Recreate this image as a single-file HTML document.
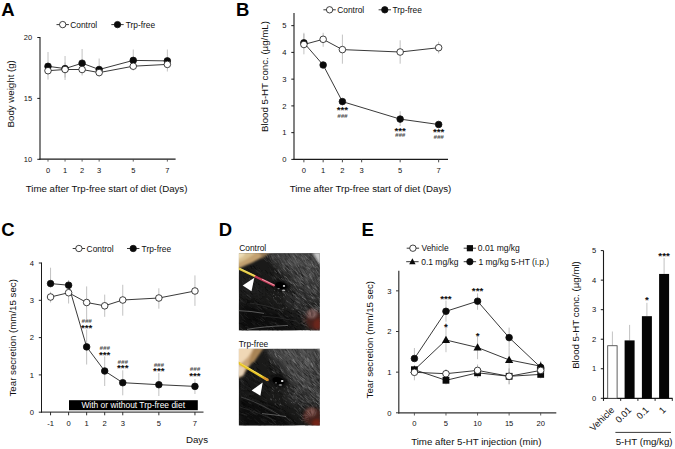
<!DOCTYPE html>
<html lang="en">
<head>
<meta charset="utf-8">
<title>Figure</title>
<style>
html,body{margin:0;padding:0;background:#fff;}
body{width:675px;height:449px;overflow:hidden;}
svg{display:block;font-family:"Liberation Sans", Arial, Helvetica, sans-serif;}
</style>
</head>
<body>
<svg width="675" height="449" viewBox="0 0 675 449">
<defs>
<filter id="blur0" x="-5%" y="-5%" width="110%" height="110%"><feGaussianBlur stdDeviation="0.45"/></filter>
<filter id="blur15" x="-30%" y="-30%" width="160%" height="160%"><feGaussianBlur stdDeviation="1.8"/></filter>
<filter id="blur1" x="-20%" y="-20%" width="140%" height="140%"><feGaussianBlur stdDeviation="1.1"/></filter>
<filter id="blur2" x="-20%" y="-20%" width="140%" height="140%"><feGaussianBlur stdDeviation="3"/></filter>
</defs>
<rect x="0" y="0" width="675" height="449" fill="#fff"/>
<g id="panelA">
<text x="1.30" y="15.60" font-size="18.5" text-anchor="start" font-weight="bold" fill="#000">A</text>
<line x1="56.50" y1="24.60" x2="68.90" y2="24.60" stroke="#222" stroke-width="0.9"/>
<circle cx="62.70" cy="24.60" r="3.2" fill="#fff" stroke="#111" stroke-width="0.8"/>
<text x="70.20" y="27.60" font-size="8.4" text-anchor="start" font-weight="normal" fill="#111">Control</text>
<line x1="111.30" y1="24.60" x2="123.70" y2="24.60" stroke="#222" stroke-width="0.9"/>
<circle cx="117.50" cy="24.60" r="3.2" fill="#0a0a0a" stroke="#111" stroke-width="0.8"/>
<text x="125.70" y="27.60" font-size="8.4" text-anchor="start" font-weight="normal" fill="#111">Trp-free</text>
<line x1="40.00" y1="37.00" x2="40.00" y2="159.65" stroke="#1a1a1a" stroke-width="1.1"/>
<line x1="39.45" y1="159.10" x2="175.60" y2="159.10" stroke="#1a1a1a" stroke-width="1.1"/>
<line x1="37.30" y1="159.30" x2="40.00" y2="159.30" stroke="#1a1a1a" stroke-width="1.0"/>
<text x="32.20" y="162.00" font-size="7.5" text-anchor="end" font-weight="normal" fill="#111">10</text>
<line x1="37.30" y1="98.40" x2="40.00" y2="98.40" stroke="#1a1a1a" stroke-width="1.0"/>
<text x="32.20" y="101.10" font-size="7.5" text-anchor="end" font-weight="normal" fill="#111">15</text>
<line x1="37.30" y1="37.50" x2="40.00" y2="37.50" stroke="#1a1a1a" stroke-width="1.0"/>
<text x="32.20" y="40.20" font-size="7.5" text-anchor="end" font-weight="normal" fill="#111">20</text>
<line x1="48.00" y1="159.10" x2="48.00" y2="161.60" stroke="#444" stroke-width="0.85"/>
<text x="48.00" y="172.60" font-size="7.5" text-anchor="middle" font-weight="normal" fill="#111">0</text>
<line x1="65.05" y1="159.10" x2="65.05" y2="161.60" stroke="#444" stroke-width="0.85"/>
<text x="65.05" y="172.60" font-size="7.5" text-anchor="middle" font-weight="normal" fill="#111">1</text>
<line x1="82.10" y1="159.10" x2="82.10" y2="161.60" stroke="#444" stroke-width="0.85"/>
<text x="82.10" y="172.60" font-size="7.5" text-anchor="middle" font-weight="normal" fill="#111">2</text>
<line x1="99.15" y1="159.10" x2="99.15" y2="161.60" stroke="#444" stroke-width="0.85"/>
<text x="99.15" y="172.60" font-size="7.5" text-anchor="middle" font-weight="normal" fill="#111">3</text>
<line x1="133.25" y1="159.10" x2="133.25" y2="161.60" stroke="#444" stroke-width="0.85"/>
<text x="133.25" y="172.60" font-size="7.5" text-anchor="middle" font-weight="normal" fill="#111">5</text>
<line x1="167.35" y1="159.10" x2="167.35" y2="161.60" stroke="#444" stroke-width="0.85"/>
<text x="167.35" y="172.60" font-size="7.5" text-anchor="middle" font-weight="normal" fill="#111">7</text>
<text x="106.60" y="191.50" font-size="9.7" text-anchor="middle" font-weight="normal" fill="#111">Time after Trp-free start of diet (Days)</text>
<text x="14.50" y="93.80" font-size="9.7" text-anchor="middle" font-weight="normal" fill="#111" transform="rotate(-90 14.50 93.80)">Body weight (g)</text>
<line x1="48.00" y1="52.00" x2="48.00" y2="70.00" stroke="#adadad" stroke-width="0.75"/>
<line x1="65.05" y1="56.00" x2="65.05" y2="80.00" stroke="#adadad" stroke-width="0.75"/>
<line x1="82.10" y1="49.00" x2="82.10" y2="70.00" stroke="#adadad" stroke-width="0.75"/>
<line x1="99.15" y1="58.50" x2="99.15" y2="75.00" stroke="#adadad" stroke-width="0.75"/>
<line x1="133.25" y1="49.50" x2="133.25" y2="66.00" stroke="#adadad" stroke-width="0.75"/>
<line x1="167.35" y1="49.50" x2="167.35" y2="66.00" stroke="#adadad" stroke-width="0.75"/>
<line x1="48.00" y1="63.50" x2="48.00" y2="79.60" stroke="#adadad" stroke-width="0.75"/>
<line x1="65.05" y1="62.50" x2="65.05" y2="77.50" stroke="#adadad" stroke-width="0.75"/>
<line x1="82.10" y1="63.00" x2="82.10" y2="75.50" stroke="#adadad" stroke-width="0.75"/>
<line x1="99.15" y1="67.50" x2="99.15" y2="76.50" stroke="#adadad" stroke-width="0.75"/>
<line x1="133.25" y1="61.00" x2="133.25" y2="70.50" stroke="#adadad" stroke-width="0.75"/>
<line x1="167.35" y1="58.50" x2="167.35" y2="71.50" stroke="#adadad" stroke-width="0.75"/>
<polyline points="48.00,66.30 65.05,68.60 82.10,63.20 99.15,69.50 133.25,60.40 167.35,60.90" fill="none" stroke="#222" stroke-width="0.9"/>
<polyline points="48.00,70.70 65.05,69.50 82.10,69.50 99.15,72.60 133.25,66.20 167.35,64.40" fill="none" stroke="#222" stroke-width="0.9"/>
<circle cx="48.00" cy="66.30" r="3.3" fill="#0a0a0a" stroke="#111" stroke-width="0.8"/>
<circle cx="65.05" cy="68.60" r="3.3" fill="#0a0a0a" stroke="#111" stroke-width="0.8"/>
<circle cx="82.10" cy="63.20" r="3.3" fill="#0a0a0a" stroke="#111" stroke-width="0.8"/>
<circle cx="99.15" cy="69.50" r="3.3" fill="#0a0a0a" stroke="#111" stroke-width="0.8"/>
<circle cx="133.25" cy="60.40" r="3.3" fill="#0a0a0a" stroke="#111" stroke-width="0.8"/>
<circle cx="167.35" cy="60.90" r="3.3" fill="#0a0a0a" stroke="#111" stroke-width="0.8"/>
<circle cx="48.00" cy="70.70" r="3.3" fill="#fff" stroke="#111" stroke-width="0.8"/>
<circle cx="65.05" cy="69.50" r="3.3" fill="#fff" stroke="#111" stroke-width="0.8"/>
<circle cx="82.10" cy="69.50" r="3.3" fill="#fff" stroke="#111" stroke-width="0.8"/>
<circle cx="99.15" cy="72.60" r="3.3" fill="#fff" stroke="#111" stroke-width="0.8"/>
<circle cx="133.25" cy="66.20" r="3.3" fill="#fff" stroke="#111" stroke-width="0.8"/>
<circle cx="167.35" cy="64.40" r="3.3" fill="#fff" stroke="#111" stroke-width="0.8"/>
</g>
<g id="panelB">
<text x="235.90" y="16.00" font-size="18.5" text-anchor="start" font-weight="bold" fill="#000">B</text>
<line x1="323.40" y1="9.80" x2="335.80" y2="9.80" stroke="#222" stroke-width="0.9"/>
<circle cx="329.60" cy="9.80" r="3.2" fill="#fff" stroke="#111" stroke-width="0.8"/>
<text x="337.20" y="12.80" font-size="8.4" text-anchor="start" font-weight="normal" fill="#111">Control</text>
<line x1="378.60" y1="9.80" x2="391.00" y2="9.80" stroke="#222" stroke-width="0.9"/>
<circle cx="384.80" cy="9.80" r="3.2" fill="#0a0a0a" stroke="#111" stroke-width="0.8"/>
<text x="392.40" y="12.80" font-size="8.4" text-anchor="start" font-weight="normal" fill="#111">Trp-free</text>
<line x1="294.00" y1="12.90" x2="294.00" y2="159.95" stroke="#1a1a1a" stroke-width="1.1"/>
<line x1="293.45" y1="159.40" x2="448.00" y2="159.40" stroke="#1a1a1a" stroke-width="1.1"/>
<line x1="291.30" y1="159.40" x2="294.00" y2="159.40" stroke="#1a1a1a" stroke-width="1.0"/>
<text x="286.60" y="162.10" font-size="7.6" text-anchor="end" font-weight="normal" fill="#111">0</text>
<line x1="291.30" y1="132.65" x2="294.00" y2="132.65" stroke="#1a1a1a" stroke-width="1.0"/>
<text x="286.60" y="135.35" font-size="7.6" text-anchor="end" font-weight="normal" fill="#111">1</text>
<line x1="291.30" y1="105.90" x2="294.00" y2="105.90" stroke="#1a1a1a" stroke-width="1.0"/>
<text x="286.60" y="108.60" font-size="7.6" text-anchor="end" font-weight="normal" fill="#111">2</text>
<line x1="291.30" y1="79.15" x2="294.00" y2="79.15" stroke="#1a1a1a" stroke-width="1.0"/>
<text x="286.60" y="81.85" font-size="7.6" text-anchor="end" font-weight="normal" fill="#111">3</text>
<line x1="291.30" y1="52.40" x2="294.00" y2="52.40" stroke="#1a1a1a" stroke-width="1.0"/>
<text x="286.60" y="55.10" font-size="7.6" text-anchor="end" font-weight="normal" fill="#111">4</text>
<line x1="291.30" y1="25.65" x2="294.00" y2="25.65" stroke="#1a1a1a" stroke-width="1.0"/>
<text x="286.60" y="28.35" font-size="7.6" text-anchor="end" font-weight="normal" fill="#111">5</text>
<line x1="303.90" y1="159.40" x2="303.90" y2="162.30" stroke="#333" stroke-width="0.9"/>
<text x="303.90" y="172.90" font-size="7.6" text-anchor="middle" font-weight="normal" fill="#111">0</text>
<line x1="323.15" y1="159.40" x2="323.15" y2="162.30" stroke="#333" stroke-width="0.9"/>
<text x="323.15" y="172.90" font-size="7.6" text-anchor="middle" font-weight="normal" fill="#111">1</text>
<line x1="342.40" y1="159.40" x2="342.40" y2="162.30" stroke="#333" stroke-width="0.9"/>
<text x="342.40" y="172.90" font-size="7.6" text-anchor="middle" font-weight="normal" fill="#111">2</text>
<line x1="361.65" y1="159.40" x2="361.65" y2="162.30" stroke="#333" stroke-width="0.9"/>
<text x="361.65" y="172.90" font-size="7.6" text-anchor="middle" font-weight="normal" fill="#111">3</text>
<line x1="400.15" y1="159.40" x2="400.15" y2="162.30" stroke="#333" stroke-width="0.9"/>
<text x="400.15" y="172.90" font-size="7.6" text-anchor="middle" font-weight="normal" fill="#111">5</text>
<line x1="438.65" y1="159.40" x2="438.65" y2="162.30" stroke="#333" stroke-width="0.9"/>
<text x="438.65" y="172.90" font-size="7.6" text-anchor="middle" font-weight="normal" fill="#111">7</text>
<text x="370.50" y="191.50" font-size="9.7" text-anchor="middle" font-weight="normal" fill="#111">Time after Trp-free start of diet (Days)</text>
<text x="268.10" y="76.50" font-size="9.7" text-anchor="middle" font-weight="normal" fill="#111" transform="rotate(-90 268.10 76.50)">Blood 5-HT conc. (µg/mL)</text>
<line x1="303.90" y1="34.00" x2="303.90" y2="46.00" stroke="#adadad" stroke-width="0.75"/>
<line x1="323.15" y1="62.50" x2="323.15" y2="67.50" stroke="#adadad" stroke-width="0.75"/>
<line x1="342.40" y1="98.50" x2="342.40" y2="105.00" stroke="#adadad" stroke-width="0.75"/>
<line x1="400.15" y1="111.20" x2="400.15" y2="126.00" stroke="#adadad" stroke-width="0.75"/>
<line x1="438.65" y1="121.50" x2="438.65" y2="127.00" stroke="#adadad" stroke-width="0.75"/>
<line x1="303.90" y1="32.80" x2="303.90" y2="54.30" stroke="#adadad" stroke-width="0.75"/>
<line x1="323.15" y1="32.80" x2="323.15" y2="46.80" stroke="#adadad" stroke-width="0.75"/>
<line x1="342.40" y1="34.60" x2="342.40" y2="63.70" stroke="#adadad" stroke-width="0.75"/>
<line x1="400.15" y1="40.30" x2="400.15" y2="63.70" stroke="#adadad" stroke-width="0.75"/>
<line x1="438.65" y1="41.70" x2="438.65" y2="53.40" stroke="#adadad" stroke-width="0.75"/>
<polyline points="303.90,42.80 323.15,65.00 342.40,101.60 400.15,119.10 438.65,124.50" fill="none" stroke="#222" stroke-width="0.9"/>
<polyline points="303.90,44.50 323.15,39.30 342.40,49.60 400.15,52.00 438.65,47.70" fill="none" stroke="#222" stroke-width="0.9"/>
<circle cx="303.90" cy="42.80" r="3.3" fill="#0a0a0a" stroke="#111" stroke-width="0.8"/>
<circle cx="323.15" cy="65.00" r="3.3" fill="#0a0a0a" stroke="#111" stroke-width="0.8"/>
<circle cx="342.40" cy="101.60" r="3.3" fill="#0a0a0a" stroke="#111" stroke-width="0.8"/>
<circle cx="400.15" cy="119.10" r="3.3" fill="#0a0a0a" stroke="#111" stroke-width="0.8"/>
<circle cx="438.65" cy="124.50" r="3.3" fill="#0a0a0a" stroke="#111" stroke-width="0.8"/>
<circle cx="303.90" cy="44.50" r="3.3" fill="#fff" stroke="#111" stroke-width="0.8"/>
<circle cx="323.15" cy="39.30" r="3.3" fill="#fff" stroke="#111" stroke-width="0.8"/>
<circle cx="342.40" cy="49.60" r="3.3" fill="#fff" stroke="#111" stroke-width="0.8"/>
<circle cx="400.15" cy="52.00" r="3.3" fill="#fff" stroke="#111" stroke-width="0.8"/>
<circle cx="438.65" cy="47.70" r="3.3" fill="#fff" stroke="#111" stroke-width="0.8"/>
<text x="342.40" y="113.30" font-size="9.8" text-anchor="middle" font-weight="bold" fill="#111">***</text>
<text x="342.40" y="117.80" font-size="6.2" text-anchor="middle" font-weight="bold" fill="#4a4a4a" font-style="italic">###</text>
<text x="400.15" y="134.40" font-size="9.8" text-anchor="middle" font-weight="bold" fill="#111">***</text>
<text x="400.15" y="137.40" font-size="6.2" text-anchor="middle" font-weight="bold" fill="#4a4a4a" font-style="italic">###</text>
<text x="438.65" y="135.40" font-size="9.8" text-anchor="middle" font-weight="bold" fill="#111">***</text>
<text x="438.65" y="139.30" font-size="6.2" text-anchor="middle" font-weight="bold" fill="#4a4a4a" font-style="italic">###</text>
</g>
<g id="panelC">
<text x="1.20" y="235.60" font-size="18.5" text-anchor="start" font-weight="bold" fill="#000">C</text>
<line x1="72.70" y1="248.50" x2="85.10" y2="248.50" stroke="#222" stroke-width="0.9"/>
<circle cx="78.90" cy="248.50" r="3.2" fill="#fff" stroke="#111" stroke-width="0.8"/>
<text x="86.60" y="251.50" font-size="8.4" text-anchor="start" font-weight="normal" fill="#111">Control</text>
<line x1="127.00" y1="248.50" x2="139.40" y2="248.50" stroke="#222" stroke-width="0.9"/>
<circle cx="133.20" cy="248.50" r="3.2" fill="#0a0a0a" stroke="#111" stroke-width="0.8"/>
<text x="141.60" y="251.50" font-size="8.4" text-anchor="start" font-weight="normal" fill="#111">Trp-free</text>
<line x1="41.50" y1="262.50" x2="41.50" y2="412.60" stroke="#1a1a1a" stroke-width="1.0"/>
<line x1="41.00" y1="412.10" x2="203.50" y2="412.10" stroke="#1a1a1a" stroke-width="1.0"/>
<line x1="38.80" y1="412.20" x2="41.50" y2="412.20" stroke="#1a1a1a" stroke-width="0.95"/>
<text x="33.90" y="414.90" font-size="7.6" text-anchor="end" font-weight="normal" fill="#111">0</text>
<line x1="38.80" y1="374.90" x2="41.50" y2="374.90" stroke="#1a1a1a" stroke-width="0.95"/>
<text x="33.90" y="377.60" font-size="7.6" text-anchor="end" font-weight="normal" fill="#111">1</text>
<line x1="38.80" y1="337.60" x2="41.50" y2="337.60" stroke="#1a1a1a" stroke-width="0.95"/>
<text x="33.90" y="340.30" font-size="7.6" text-anchor="end" font-weight="normal" fill="#111">2</text>
<line x1="38.80" y1="300.30" x2="41.50" y2="300.30" stroke="#1a1a1a" stroke-width="0.95"/>
<text x="33.90" y="303.00" font-size="7.6" text-anchor="end" font-weight="normal" fill="#111">3</text>
<line x1="38.80" y1="263.00" x2="41.50" y2="263.00" stroke="#1a1a1a" stroke-width="0.95"/>
<text x="33.90" y="265.70" font-size="7.6" text-anchor="end" font-weight="normal" fill="#111">4</text>
<line x1="50.55" y1="412.10" x2="50.55" y2="415.30" stroke="#1a1a1a" stroke-width="0.9"/>
<text x="50.55" y="425.70" font-size="7.6" text-anchor="middle" font-weight="normal" fill="#111">-1</text>
<line x1="68.60" y1="412.10" x2="68.60" y2="415.30" stroke="#1a1a1a" stroke-width="0.9"/>
<text x="68.60" y="425.70" font-size="7.6" text-anchor="middle" font-weight="normal" fill="#111">0</text>
<line x1="86.65" y1="412.10" x2="86.65" y2="415.30" stroke="#1a1a1a" stroke-width="0.9"/>
<text x="86.65" y="425.70" font-size="7.6" text-anchor="middle" font-weight="normal" fill="#111">1</text>
<line x1="104.70" y1="412.10" x2="104.70" y2="415.30" stroke="#1a1a1a" stroke-width="0.9"/>
<text x="104.70" y="425.70" font-size="7.6" text-anchor="middle" font-weight="normal" fill="#111">2</text>
<line x1="122.75" y1="412.10" x2="122.75" y2="415.30" stroke="#1a1a1a" stroke-width="0.9"/>
<text x="122.75" y="425.70" font-size="7.6" text-anchor="middle" font-weight="normal" fill="#111">3</text>
<line x1="158.85" y1="412.10" x2="158.85" y2="415.30" stroke="#1a1a1a" stroke-width="0.9"/>
<text x="158.85" y="425.70" font-size="7.6" text-anchor="middle" font-weight="normal" fill="#111">5</text>
<line x1="194.95" y1="412.10" x2="194.95" y2="415.30" stroke="#1a1a1a" stroke-width="0.9"/>
<text x="194.95" y="425.70" font-size="7.6" text-anchor="middle" font-weight="normal" fill="#111">7</text>
<text x="197.00" y="443.20" font-size="9.7" text-anchor="middle" font-weight="normal" fill="#111">Days</text>
<text x="16.00" y="337.80" font-size="9.7" text-anchor="middle" font-weight="normal" fill="#111" transform="rotate(-90 16.00 337.80)">Tear secretion (mm/15 sec)</text>
<line x1="50.55" y1="267.70" x2="50.55" y2="284.00" stroke="#adadad" stroke-width="0.75"/>
<line x1="68.60" y1="280.00" x2="68.60" y2="286.00" stroke="#adadad" stroke-width="0.75"/>
<line x1="86.65" y1="329.40" x2="86.65" y2="364.50" stroke="#adadad" stroke-width="0.75"/>
<line x1="104.70" y1="356.30" x2="104.70" y2="386.00" stroke="#adadad" stroke-width="0.75"/>
<line x1="122.75" y1="370.30" x2="122.75" y2="395.30" stroke="#adadad" stroke-width="0.75"/>
<line x1="158.85" y1="373.00" x2="158.85" y2="396.00" stroke="#adadad" stroke-width="0.75"/>
<line x1="194.95" y1="379.00" x2="194.95" y2="394.00" stroke="#adadad" stroke-width="0.75"/>
<line x1="50.55" y1="291.80" x2="50.55" y2="302.50" stroke="#adadad" stroke-width="0.75"/>
<line x1="68.60" y1="287.60" x2="68.60" y2="303.50" stroke="#adadad" stroke-width="0.75"/>
<line x1="86.65" y1="286.40" x2="86.65" y2="319.00" stroke="#adadad" stroke-width="0.75"/>
<line x1="104.70" y1="294.60" x2="104.70" y2="316.80" stroke="#adadad" stroke-width="0.75"/>
<line x1="122.75" y1="284.80" x2="122.75" y2="315.70" stroke="#adadad" stroke-width="0.75"/>
<line x1="158.85" y1="288.30" x2="158.85" y2="308.70" stroke="#adadad" stroke-width="0.75"/>
<line x1="194.95" y1="275.40" x2="194.95" y2="305.90" stroke="#adadad" stroke-width="0.75"/>
<rect x="69.0" y="400.2" width="128.8" height="10.0" fill="#000"/>
<text x="133.20" y="408.30" font-size="8.45" text-anchor="middle" font-weight="normal" fill="#fff">With or without Trp-free diet</text>
<polyline points="50.55,283.60 68.60,285.20 86.65,346.90 104.70,371.00 122.75,382.70 158.85,384.70 194.95,386.40" fill="none" stroke="#222" stroke-width="0.9"/>
<polyline points="50.55,297.00 68.60,292.70 86.65,302.50 104.70,305.80 122.75,300.00 158.85,298.00 194.95,291.00" fill="none" stroke="#222" stroke-width="0.9"/>
<circle cx="50.55" cy="283.60" r="3.3" fill="#0a0a0a" stroke="#111" stroke-width="0.8"/>
<circle cx="68.60" cy="285.20" r="3.3" fill="#0a0a0a" stroke="#111" stroke-width="0.8"/>
<circle cx="86.65" cy="346.90" r="3.3" fill="#0a0a0a" stroke="#111" stroke-width="0.8"/>
<circle cx="104.70" cy="371.00" r="3.3" fill="#0a0a0a" stroke="#111" stroke-width="0.8"/>
<circle cx="122.75" cy="382.70" r="3.3" fill="#0a0a0a" stroke="#111" stroke-width="0.8"/>
<circle cx="158.85" cy="384.70" r="3.3" fill="#0a0a0a" stroke="#111" stroke-width="0.8"/>
<circle cx="194.95" cy="386.40" r="3.3" fill="#0a0a0a" stroke="#111" stroke-width="0.8"/>
<circle cx="50.55" cy="297.00" r="3.3" fill="#fff" stroke="#111" stroke-width="0.8"/>
<circle cx="68.60" cy="292.70" r="3.3" fill="#fff" stroke="#111" stroke-width="0.8"/>
<circle cx="86.65" cy="302.50" r="3.3" fill="#fff" stroke="#111" stroke-width="0.8"/>
<circle cx="104.70" cy="305.80" r="3.3" fill="#fff" stroke="#111" stroke-width="0.8"/>
<circle cx="122.75" cy="300.00" r="3.3" fill="#fff" stroke="#111" stroke-width="0.8"/>
<circle cx="158.85" cy="298.00" r="3.3" fill="#fff" stroke="#111" stroke-width="0.8"/>
<circle cx="194.95" cy="291.00" r="3.3" fill="#fff" stroke="#111" stroke-width="0.8"/>
<text x="86.65" y="323.00" font-size="6.2" text-anchor="middle" font-weight="bold" fill="#4a4a4a" font-style="italic">###</text>
<text x="86.65" y="330.60" font-size="9.8" text-anchor="middle" font-weight="bold" fill="#111">***</text>
<text x="104.70" y="350.30" font-size="6.2" text-anchor="middle" font-weight="bold" fill="#4a4a4a" font-style="italic">###</text>
<text x="104.70" y="357.50" font-size="9.8" text-anchor="middle" font-weight="bold" fill="#111">***</text>
<text x="122.75" y="363.50" font-size="6.2" text-anchor="middle" font-weight="bold" fill="#4a4a4a" font-style="italic">###</text>
<text x="122.75" y="371.20" font-size="9.8" text-anchor="middle" font-weight="bold" fill="#111">***</text>
<text x="158.85" y="366.50" font-size="6.2" text-anchor="middle" font-weight="bold" fill="#4a4a4a" font-style="italic">###</text>
<text x="158.85" y="374.00" font-size="9.8" text-anchor="middle" font-weight="bold" fill="#111">***</text>
<text x="194.95" y="371.20" font-size="6.2" text-anchor="middle" font-weight="bold" fill="#4a4a4a" font-style="italic">###</text>
<text x="194.95" y="378.90" font-size="9.8" text-anchor="middle" font-weight="bold" fill="#111">***</text>
</g>
<g id="panelD">
<text x="218.80" y="236.20" font-size="18.5" text-anchor="start" font-weight="bold" fill="#000">D</text>
<text x="239.20" y="251.20" font-size="8.4" text-anchor="start" font-weight="normal" fill="#111">Control</text>
<text x="238.80" y="346.80" font-size="8.4" text-anchor="start" font-weight="normal" fill="#111">Trp-free</text>
<clipPath id="clip1"><rect x="238.8" y="253.2" width="81.0" height="77.2"/></clipPath>
<g clip-path="url(#clip1)">
<rect x="238.8" y="253.2" width="81.0" height="77.2" fill="#1a1a19"/>
<g filter="url(#blur2)">
<polygon points="266,250 322,250 322,302 304,300 288,276 274,262" fill="#3b3b3b"/>
<polygon points="278,252 304,252 320,286 304,278" fill="#555" opacity="0.75"/>
<polygon points="284,292 312,296 306,312 286,306" fill="#2c2c2c"/>
<polygon points="239,300 280,312 300,332 239,332" fill="#0c0c0c"/>
<polygon points="239,270 262,282 262,296 239,296" fill="#1d1d1d"/>
</g>
<g filter="url(#blur0)">
<path d="M314.8 313.2l3.5 2.5M314.0 303.2l3.9 2.5M297.2 272.3l1.7 2.5M299.1 269.1l1.4 1.8M294.4 268.2l2.5 2.6M319.4 300.5l2.2 2.1M314.7 253.6l1.1 2.8M314.2 295.2l2.7 3.6M283.5 278.1l2.4 3.0M318.3 281.2l2.4 4.3M311.8 253.8l2.8 4.3M288.2 253.3l1.7 2.8M312.2 274.3l4.0 3.4M319.3 305.4l3.9 3.2M318.1 264.2l2.3 4.3M305.3 296.8l3.3 2.4M306.2 269.8l2.0 2.8M299.9 279.6l2.9 3.2M295.0 293.6l3.8 2.4M301.1 290.3l2.4 3.3M310.5 282.3l1.2 1.7M273.9 269.5l1.9 1.6M287.1 275.6l3.3 2.9M296.3 258.5l1.8 3.1M302.2 292.1l3.0 4.5M307.5 308.3l2.5 1.2M282.8 281.0l2.5 3.3M318.0 319.9l3.5 3.7M318.9 285.4l2.3 2.7M318.6 275.9l3.7 3.1M312.6 266.7l2.4 3.1M287.8 256.6l1.8 2.2M282.3 255.7l1.7 1.9M300.8 273.4l1.7 3.0M319.8 286.4l3.1 3.3M307.2 315.2l2.4 2.7M318.4 306.0l4.7 2.6M288.2 261.8l2.2 4.1M296.7 264.6l2.0 3.1M285.4 284.3l1.8 2.1M279.9 265.9l2.7 2.4M270.2 259.2l3.7 3.5M299.0 301.7l3.7 2.7M303.7 321.7l2.4 2.6M297.2 264.2l2.4 2.3M306.8 294.5l1.6 1.5M295.9 262.3l1.2 2.2M310.8 308.7l2.0 1.1M314.7 317.8l3.5 1.5M313.8 291.0l3.3 3.0M279.7 263.9l1.4 1.7M316.3 275.3l2.2 2.1M306.3 292.8l4.3 2.9M314.0 298.9l2.8 1.7M305.4 271.5l1.9 2.7M289.7 266.9l2.7 2.4M319.3 313.5l2.8 3.4M300.8 282.9l2.5 2.6M294.0 298.8l1.8 1.7M296.3 260.9l2.0 3.3M308.1 314.1l2.6 1.9M310.2 285.4l4.2 3.1M303.4 291.4l2.6 4.2M312.9 279.4l2.3 3.0M302.9 296.4l2.3 1.9M290.9 284.1l1.7 1.4M301.4 255.6l1.5 1.6M304.6 296.7l2.7 2.3M305.2 300.1l3.2 4.4M304.2 320.6l1.9 0.9M311.8 275.5l2.4 3.6M315.8 285.3l3.6 3.8M309.0 293.5l2.2 1.9M287.4 279.4l2.5 3.3M292.4 306.1l1.6 1.4M289.5 286.0l1.7 2.6M313.7 279.5l1.0 2.1M282.9 268.7l1.0 1.8M300.5 273.7l2.1 1.8M317.2 289.8l2.9 2.5M317.7 329.0l3.1 3.2M307.3 308.4l2.0 1.5M311.0 270.7l1.2 1.8M316.5 255.0l1.0 2.2M308.2 306.7l3.6 3.0M292.7 279.0l2.8 3.6M284.8 266.8l3.7 4.0M313.9 283.2l3.0 2.6M274.4 279.5l3.2 2.1M302.4 305.6l3.4 2.7M278.2 272.5l1.3 1.6M302.9 300.8l2.2 2.5M319.6 271.8l2.1 3.4M283.2 287.9l3.4 4.3M309.0 278.9l1.9 1.6M303.9 294.1l2.1 2.7M288.5 262.8l2.6 2.8M309.1 280.5l2.2 2.2M307.4 306.2l3.8 3.7M305.2 260.3l2.2 4.1M316.4 281.1l2.9 4.6M317.7 266.6l1.5 2.4M316.2 307.3l2.3 2.1M292.7 283.7l2.9 2.1M318.8 299.4l3.1 3.4M291.5 290.9l1.9 2.8M317.2 276.6l1.5 1.8M303.9 254.8l1.7 2.3M311.5 300.6l2.0 1.9M310.6 294.5l2.8 2.5M317.1 328.6l3.4 3.2M285.5 258.5l1.2 2.5M317.1 314.7l2.3 1.1M297.8 263.6l2.9 4.4M288.6 254.1l1.5 3.5M292.7 260.6l2.1 2.0M319.7 313.2l4.0 3.0M318.7 283.9l3.0 4.4M309.0 291.9l1.6 2.6M303.0 258.8l3.5 4.2M315.1 310.8l2.3 2.9M308.7 291.4l1.2 1.9M312.2 301.3l4.1 2.4M311.5 287.3l2.5 4.4M307.9 253.7l1.6 2.8M273.9 255.1l1.7 2.0M294.0 293.8l2.6 2.2M278.6 261.4l3.2 3.1M291.3 256.5l1.8 1.9M300.2 296.6l2.7 2.4M318.6 295.8l2.4 2.6M301.9 289.6l3.7 2.3M304.7 288.2l4.2 2.9M301.8 273.7l2.6 3.1M305.8 291.9l3.1 3.6M290.3 260.3l3.4 3.5M296.8 270.0l3.7 3.3M307.9 258.2l1.7 1.9M316.8 287.4l2.6 2.6M318.6 262.3l1.5 2.7M309.8 292.2l1.8 1.9M299.9 304.8l2.1 1.1M316.4 320.7l2.5 1.2M313.0 298.7l3.1 3.9M305.7 304.5l1.6 2.0M284.4 258.8l2.2 2.6M301.4 271.3l1.5 2.3M286.2 284.2l2.0 2.4M313.5 284.5l1.8 2.4M284.4 253.7l2.0 3.0M300.4 270.6l1.5 2.9M301.4 268.0l1.7 2.8M286.8 265.0l3.8 3.9M305.1 281.8l2.5 4.3M313.3 303.5l1.9 2.1M301.2 311.3l2.9 2.3M302.9 253.5l2.2 3.9M310.2 292.4l1.7 2.6M302.8 298.7l3.9 3.4M280.7 259.2l2.2 3.8M318.3 322.7l1.8 1.6M314.7 276.7l3.3 4.3M310.7 258.0l1.5 1.6M303.3 311.2l2.1 1.5M300.9 258.6l1.6 3.1M308.6 301.8l2.8 1.7M307.8 259.3l2.5 2.7M317.5 306.0l3.2 3.6M298.5 256.0l1.5 2.8M314.8 320.1l3.2 1.8M318.5 253.5l1.0 3.0M303.2 315.0l2.5 2.3M300.3 273.7l3.2 4.4M300.2 268.7l1.7 2.4M294.6 276.2l2.0 2.9M291.7 286.5l2.6 3.7M309.5 257.2l1.7 3.7M308.0 257.5l1.2 3.0M282.4 265.9l2.4 3.2M298.4 253.8l2.1 2.4M303.8 292.6l2.4 2.0M317.8 256.9l1.2 3.4M315.9 271.2l3.4 4.1M299.4 273.0l2.0 1.8M298.4 315.0l4.1 2.5M302.0 281.0l3.1 3.6M289.8 280.7l4.1 3.5M313.4 261.3l2.0 2.6M301.6 282.4l2.9 2.1M310.6 328.9l3.1 1.5M309.5 284.1l3.3 2.5M295.7 255.1l1.9 4.3M290.2 305.4l1.5 1.5M295.8 266.3l1.6 3.0M314.7 295.5l2.0 1.5M302.3 284.1l1.7 3.1M278.0 259.4l1.4 1.5M297.8 299.7l2.9 2.9M302.3 271.5l2.1 2.3M284.8 281.8l2.2 2.7M306.6 294.8l2.6 1.7M296.7 270.5l3.9 3.9M317.3 292.7l3.1 3.9M315.0 306.7l2.8 1.6M302.7 301.0l3.9 2.4M307.4 270.3l2.1 2.4M313.5 278.9l2.1 2.9M295.3 273.8l1.4 1.5M293.9 256.7l3.3 3.5M315.8 325.7l4.6 2.6M298.1 304.7l3.7 2.7M289.5 260.8l1.9 1.9M311.4 287.4l2.0 2.6M300.3 254.2l1.1 2.3M312.9 303.3l2.2 2.1M284.4 261.5l1.9 1.7M318.8 271.6l1.3 2.9M310.9 317.1l2.8 3.4M299.0 286.5l2.2 3.0M303.1 308.6l1.8 2.0M309.7 266.8l2.4 2.8M305.1 285.7l2.9 2.5M304.9 303.6l3.1 1.7M315.3 271.4l3.0 4.2M296.4 255.2l1.1 1.8M305.4 265.9l2.5 3.0M318.5 300.8l2.4 3.6M289.1 279.0l4.0 3.1M318.8 289.2l1.9 1.7M292.2 271.1l4.0 3.3M299.0 259.9l1.1 3.0M268.5 266.6l2.2 2.8" stroke="#1c1c1c" stroke-width="0.45" fill="none" opacity="0.85" stroke-linecap="round"/>
<path d="M302.6 274.9l3.1 2.9M304.6 267.6l1.4 2.1M302.1 289.2l4.0 2.9M281.9 261.0l2.2 4.3M306.3 270.2l2.4 3.2M299.4 277.0l2.6 2.7M305.6 328.0l4.7 2.0M299.8 292.7l2.1 1.9M305.2 286.0l2.2 2.1M319.5 288.7l2.9 4.3M301.8 310.7l2.3 1.1M299.5 304.3l2.9 1.7M281.4 268.9l1.7 2.7M290.5 267.0l1.8 1.8M281.1 278.6l2.3 1.9M314.8 328.0l2.4 1.3M310.8 293.5l2.6 3.5M296.0 316.4l3.4 1.8M285.9 256.3l1.9 3.5M319.4 280.9l3.0 3.3M310.3 296.9l1.4 1.7M284.6 253.3l1.0 2.3M315.3 327.3l3.2 2.6M313.8 292.8l2.6 3.3M314.3 291.0l1.8 2.2M276.7 260.4l3.0 3.5M302.5 259.0l3.8 3.6M288.6 260.7l2.4 2.4M312.4 297.0l4.2 3.5M311.0 281.5l2.1 3.4M318.0 304.8l1.8 1.9M307.3 257.7l1.9 5.0M315.4 269.3l3.7 3.8M316.0 290.7l2.0 1.4M286.8 269.0l2.5 3.0M290.7 298.7l2.7 3.7M315.6 303.7l2.8 2.8M296.4 273.1l2.6 4.4M314.9 318.7l4.1 1.8M304.8 299.5l2.4 1.4M307.7 318.2l1.8 0.9M319.7 295.3l3.5 4.0M317.9 280.7l1.9 1.6M315.1 266.6l1.5 3.9M304.7 282.1l3.1 3.0M311.0 265.1l2.4 3.6M297.7 287.2l2.6 4.0M304.4 263.9l1.6 2.6M299.4 261.2l1.6 2.7M296.5 271.2l2.8 2.4M299.5 280.9l1.9 2.0M317.7 263.6l2.3 4.9M307.5 312.2l3.6 3.1M308.7 325.3l4.4 1.9M298.7 305.7l1.5 1.4M277.3 263.0l3.0 4.6M294.8 285.6l3.2 3.8M292.3 256.4l1.8 2.9M286.6 271.2l2.8 4.2M279.0 270.0l2.1 1.7M303.2 313.0l2.8 1.7M312.9 292.9l2.0 2.4M309.0 278.1l1.7 2.9M276.9 270.0l1.4 2.4M281.0 287.8l1.8 2.0M277.1 257.0l2.5 3.1M314.8 272.2l2.2 3.3M311.0 259.3l2.7 2.6M282.1 270.4l2.2 2.5M318.7 297.1l3.5 2.9M308.2 273.9l1.2 2.6M294.0 253.4l1.6 3.7M311.1 263.0l1.4 2.0M294.7 266.6l4.0 3.6M284.6 256.3l3.2 3.8M310.1 253.3l1.5 1.7M319.7 286.1l2.7 3.5M306.1 256.6l2.5 4.5M304.6 264.9l1.9 2.3M299.2 278.2l1.9 3.6M286.8 288.0l2.5 2.4M287.8 289.5l1.6 1.7M282.2 272.3l1.4 1.4M295.1 253.9l1.4 2.8M313.7 262.8l1.2 3.2M297.7 266.2l1.5 1.5M319.6 266.3l2.3 4.3M276.8 269.0l3.8 3.4M282.0 289.2l2.9 2.9M311.1 323.3l1.8 1.1M309.0 301.5l3.2 4.2M305.1 311.6l2.4 1.2M311.1 284.7l3.1 3.8M305.5 259.7l1.7 2.5M288.4 287.4l2.8 3.8M295.6 257.5l2.0 4.3M302.3 268.5l2.1 2.0M312.1 285.7l1.9 1.9M304.6 254.2l1.6 2.2M310.0 261.6l1.2 2.3M280.7 276.0l3.9 2.8M310.1 278.7l2.6 3.5M295.9 274.6l3.3 3.4M318.0 298.7l4.1 3.1M310.0 283.6l1.9 3.6M303.1 262.7l1.0 2.5M289.6 277.1l2.5 4.7M297.7 260.2l2.8 2.9M301.4 274.7l2.0 1.9M284.8 286.5l3.0 2.3M315.6 295.3l4.1 2.8M289.9 278.8l2.5 3.9M287.3 270.9l2.2 3.1M302.2 306.4l3.7 3.3M313.0 262.4l2.9 3.6M292.7 293.0l3.0 2.7M317.4 276.0l2.0 2.0M319.8 282.0l1.6 1.6M317.5 306.6l2.4 2.9M306.8 265.8l1.4 1.8M295.2 301.1l3.2 3.9M303.3 307.7l2.0 2.0M302.7 303.8l2.9 1.8M302.8 282.0l2.3 3.2M273.0 262.3l1.3 2.9M319.5 258.6l1.2 1.7M304.7 258.3l1.9 2.5M273.8 265.8l1.3 1.6M310.8 290.6l1.1 1.8M290.8 295.4l3.4 3.1M266.3 259.5l1.6 2.0M301.4 286.1l3.2 2.8M309.6 306.7l3.9 3.7M271.3 259.0l1.5 2.0M309.8 304.4l3.1 2.4M302.2 260.2l2.1 3.2M306.5 272.6l2.8 2.6M304.7 267.7l2.0 3.9M305.5 268.5l1.8 1.6M290.7 286.4l2.1 3.2M289.8 276.3l3.1 2.8M309.1 270.4l2.3 2.5M290.1 293.1l2.5 3.0M304.6 291.2l1.6 1.9M313.6 263.7l2.4 3.0M313.5 280.5l2.4 3.8M308.9 257.2l2.1 2.3M309.3 264.9l1.2 2.5M291.2 274.6l4.0 3.4M297.1 306.5l2.3 2.8M290.5 260.2l2.8 2.5M318.5 261.7l2.3 2.3M300.2 260.1l1.7 2.5M312.7 320.1l2.2 1.8M315.0 290.1l1.7 2.7M298.8 262.7l1.8 3.1M316.4 261.4l2.2 4.4M308.7 276.8l2.0 3.0M313.1 271.9l1.3 2.5M292.8 300.5l2.4 3.0M314.8 271.9l3.2 3.9M290.2 255.7l2.8 3.4M318.9 254.8l0.9 1.9M301.8 273.7l2.0 2.8M301.0 306.0l2.4 1.3M295.5 280.9l2.5 2.1M318.9 293.0l2.6 2.6M312.2 276.6l2.4 3.0M308.8 285.8l2.4 3.1M302.8 267.6l1.8 3.9M273.0 262.4l3.5 4.1M279.9 255.2l1.4 1.7M311.3 282.3l2.3 2.0M315.7 280.4l2.2 3.6M298.2 256.6l2.3 4.0M291.7 295.2l3.3 2.5M260.1 254.1l1.9 3.5M316.1 269.6l2.7 3.8M298.8 265.0l2.2 2.3M290.5 279.1l2.7 2.8M290.5 306.6l3.3 3.2M315.4 320.5l2.5 1.8M298.5 263.6l1.6 2.0M287.7 275.9l2.4 3.7M317.6 259.4l3.4 4.3M297.8 285.2l1.9 1.8M304.0 306.0l2.6 2.7M275.4 267.7l4.0 3.5M281.7 255.7l2.8 4.7M290.1 280.1l2.1 3.4M311.4 268.8l2.0 2.0M317.7 278.6l1.2 2.4M307.1 256.0l1.2 2.3M312.3 297.6l1.5 2.3M302.6 267.0l2.3 3.7M306.4 294.6l2.0 1.9M275.8 262.4l3.4 4.1M287.1 279.4l1.8 3.1M270.2 268.9l1.7 2.6M314.6 276.0l1.9 1.6M319.0 275.3l1.3 1.8M311.2 281.4l2.4 3.0M279.5 254.2l1.4 2.5M313.4 266.4l2.4 4.0M301.2 298.8l1.6 1.7M305.3 312.3l2.2 1.7M312.2 263.8l1.7 2.2M289.4 254.9l2.0 3.9M313.0 277.6l2.5 2.2M285.2 283.1l3.0 1.9M286.6 292.0l3.3 3.3M285.0 271.0l1.1 2.1M314.8 318.0l4.1 2.1M304.3 313.0l2.7 2.0M313.2 279.8l3.1 3.9M294.6 261.4l2.8 4.4M316.6 280.1l2.3 1.9M310.1 296.0l1.5 2.3M301.2 310.2l2.3 2.8M316.0 300.2l2.3 1.3M292.9 304.2l3.0 2.0M304.1 266.7l1.9 1.9M308.9 267.1l2.2 2.0M311.4 279.3l1.1 1.9M284.1 279.3l3.8 2.7M316.5 275.9l1.5 2.6M289.1 265.1l2.7 3.8M304.6 305.5l1.7 1.1M313.6 322.0l3.8 1.6M302.6 277.8l2.6 4.3M313.7 323.7l3.6 1.5M279.4 271.0l1.6 1.7M313.3 258.4l1.2 3.6M316.7 316.3l1.6 1.9M307.3 318.9l3.1 1.5M287.2 256.2l2.0 2.5M316.2 295.7l3.3 2.7M319.3 317.1l1.7 1.3M314.6 254.8l2.4 2.8M303.5 277.6l2.7 3.9M316.4 261.3l3.2 4.4M300.6 269.2l2.2 3.1M285.1 286.5l3.2 4.0M300.9 278.2l3.6 4.0M281.8 276.0l1.6 2.0M297.5 293.8l4.4 2.6M311.9 318.9l2.4 2.6M299.0 288.0l3.6 2.7M318.4 280.5l1.3 1.6M276.3 263.4l2.4 3.2M312.1 258.8l1.5 2.1M309.3 284.2l2.1 2.9M318.0 277.6l1.0 1.8M309.8 318.1l1.8 1.8M305.3 286.5l3.3 4.0M319.8 297.0l4.3 3.0M301.9 264.4l3.2 3.0M317.1 290.9l4.0 3.4M312.7 304.3l1.9 1.1M280.2 287.8l2.9 4.0M299.8 292.4l3.0 3.8" stroke="#303030" stroke-width="0.45" fill="none" opacity="0.85" stroke-linecap="round"/>
<path d="M297.2 313.8l4.4 2.1M300.8 268.9l3.4 4.0M292.9 281.1l3.4 2.3M299.4 253.8l1.0 1.8M300.2 284.7l2.2 2.9M292.3 255.1l1.8 2.4M313.2 289.1l2.5 2.1M268.8 260.6l2.7 3.1M282.2 261.6l1.7 2.4M287.4 272.6l3.7 3.3M289.8 268.1l2.9 3.2M319.6 254.4l1.8 2.1M312.7 258.2l2.0 2.4M314.0 268.6l1.3 1.9M284.7 266.4l2.2 4.6M288.8 267.7l1.4 2.5M316.4 256.1l1.1 1.8M304.5 304.4l3.0 3.7M282.3 259.3l2.1 2.4M279.1 279.4l4.0 2.8M314.3 278.5l3.4 4.2M309.3 271.0l1.3 2.9M311.0 318.2l2.0 1.9M306.9 317.9l2.5 2.3M302.4 273.6l2.1 1.7M275.6 274.9l1.7 3.0M289.2 269.4l1.9 1.5M292.3 276.9l3.4 2.7M315.7 290.8l1.7 2.5M301.9 273.4l1.9 1.8M303.6 279.4l1.6 2.0M293.6 267.3l2.4 2.8M307.3 274.9l2.7 2.1M274.1 265.2l2.2 2.5M299.2 264.4l2.5 2.3M305.3 258.4l3.9 3.7M308.0 289.6l2.6 2.7M319.5 326.9l2.0 1.6M300.2 256.4l1.0 3.0M292.9 282.0l1.3 2.1M285.8 280.6l2.7 2.8M312.5 287.6l1.6 3.0M317.4 292.8l3.0 2.0M310.0 254.7l1.4 1.6M316.9 309.6l3.8 2.6M317.6 266.3l1.4 2.0M303.8 273.0l2.7 2.8M304.5 258.5l1.3 3.0M313.7 300.5l3.1 4.4M314.4 264.3l3.1 2.8M306.5 304.1l1.9 1.6M302.0 263.2l2.0 3.3M298.8 311.7l2.4 1.8M306.4 256.6l1.6 1.6M292.5 293.2l2.9 2.0M314.4 329.9l2.1 1.6M299.6 301.5l3.8 2.7M319.2 286.6l1.9 2.8M319.1 257.0l1.9 4.0M283.6 279.7l2.6 3.4M264.5 256.1l1.6 3.1M314.0 311.2l4.2 2.6M304.9 324.7l3.7 2.6M293.2 258.6l1.9 4.7M311.6 294.8l2.1 1.7M300.4 299.9l2.1 2.5M272.8 265.8l3.0 2.8M291.2 255.6l2.2 2.3M311.7 285.4l2.7 2.1M312.9 309.0l3.9 3.4M316.4 297.4l1.7 1.6M312.8 318.4l3.1 2.6M273.5 262.3l3.0 2.9M319.0 306.6l1.5 1.7M299.4 294.2l2.3 1.9M309.5 274.6l2.9 2.3M316.8 314.7l3.9 3.9M302.1 306.6l2.6 3.3M301.8 269.2l2.5 3.7M302.2 255.1l2.9 3.3M280.8 255.5l1.7 2.9M281.9 265.9l1.9 2.1M288.7 280.2l1.9 1.7M313.0 273.1l2.8 2.7M317.2 315.3l4.4 2.9M302.4 272.5l2.8 4.1M314.6 281.7l1.7 1.6M314.1 323.8l1.9 0.8M317.3 284.7l1.5 2.4M305.0 262.6l3.1 4.3M315.9 307.0l2.9 3.4M316.3 286.8l3.4 2.9M288.3 266.4l1.6 1.5M304.9 306.9l1.6 2.0M312.7 263.6l2.7 4.5M311.4 329.7l2.4 2.1M288.5 287.8l3.7 3.0M290.1 261.7l2.6 4.8M296.5 260.8l2.0 4.8M269.9 259.0l3.3 3.2M318.7 330.3l4.8 2.1M307.8 323.7l4.1 1.7M302.4 307.6l3.7 2.8M318.1 283.3l3.6 3.6M313.4 278.8l2.5 3.8M292.4 302.5l3.7 3.2M306.4 275.9l1.7 3.4M307.8 256.4l2.0 4.5M310.8 305.4l3.4 3.2M307.6 269.6l2.2 3.6M276.7 269.1l2.6 3.5M299.8 280.0l1.0 1.7M298.5 270.0l4.2 3.5M304.0 277.3l3.9 3.8M309.1 283.8l1.2 2.2M283.7 258.6l2.5 2.6M316.3 308.1l3.4 2.6M313.5 292.1l4.3 3.1M291.0 254.3l2.3 3.0M303.7 286.6l1.2 1.7M276.6 256.8l3.3 3.3M306.6 273.2l3.4 3.9M295.8 270.6l1.5 2.2M310.1 311.8l3.2 2.0M300.9 272.3l1.0 1.8M278.3 255.2l2.5 3.0M312.0 274.4l3.8 3.3M278.1 256.5l2.3 3.3M313.8 308.7l3.7 1.8M296.2 303.3l4.6 2.6M319.7 284.1l1.9 2.9M278.5 258.1l3.0 2.8M280.8 283.6l2.5 2.3M309.5 305.5l2.8 1.8M313.9 266.2l1.9 2.3M294.2 288.5l2.4 3.8M279.2 255.6l1.4 2.0M319.0 291.4l1.8 1.9M318.7 291.5l1.4 1.8M272.3 258.8l2.5 4.1M308.2 256.3l1.2 3.2M305.5 285.9l2.0 1.7M286.6 260.1l2.3 3.1M315.6 320.0l3.8 2.3M288.6 293.4l1.5 1.4M283.3 262.9l1.6 2.3M314.0 287.1l2.4 1.7M289.9 255.1l2.8 3.0M285.8 266.8l1.3 1.8M318.0 253.4l0.9 2.3M290.4 265.6l2.7 2.6M319.8 278.5l3.4 4.3M311.6 267.9l2.7 4.2M314.2 305.1l1.7 1.9M292.3 262.4l1.9 3.3M292.9 286.5l2.7 2.6M316.8 266.5l1.4 1.7M313.5 259.9l1.7 1.8M277.9 276.8l3.5 3.9M312.9 260.2l2.3 3.3M290.7 295.3l1.4 1.9M283.7 256.1l1.4 1.8M308.4 258.7l1.3 3.3M271.3 261.2l1.7 2.5M318.5 302.1l1.7 1.9M304.7 299.6l3.0 2.4M316.2 307.6l2.2 2.3M294.1 254.3l1.9 4.2M289.8 284.4l2.6 3.0M286.2 267.5l3.0 4.2M271.9 254.2l1.7 3.2M312.1 272.0l4.0 3.4M308.2 312.7l3.8 1.8M297.5 270.7l1.9 1.7M300.4 300.2l1.9 1.4M307.1 261.9l3.0 3.8M319.4 267.2l1.8 3.0M298.3 260.6l1.5 2.4M304.5 278.1l3.0 4.2M293.5 274.4l1.3 2.5M317.1 312.2l3.6 3.1M283.0 278.6l3.5 4.2M299.7 305.0l2.6 2.1M289.6 295.7l3.1 3.7M308.9 290.2l4.0 2.5M305.2 315.3l2.4 2.9M314.4 297.6l2.1 1.5M318.3 330.3l4.0 3.2M272.9 264.7l2.7 2.8M311.5 258.7l1.5 2.4M282.0 282.8l2.2 3.0M300.9 255.3l1.5 2.4M308.7 291.7l2.5 2.9M282.1 257.4l2.8 4.0M290.0 277.2l3.2 2.3M296.6 290.1l2.0 1.3M292.9 284.4l1.4 1.8M296.4 307.1l1.7 1.9M294.7 270.3l3.1 3.2M299.7 305.8l2.0 1.1M312.9 298.6l2.3 1.9M315.0 316.2l4.3 3.2M296.0 282.6l3.3 3.1M311.4 308.7l2.9 3.1M306.7 253.4l1.5 2.7M307.6 301.2l3.4 2.8M290.5 253.6l2.1 4.7M295.6 300.5l3.9 2.3M317.5 297.4l2.2 2.9M285.6 263.7l2.2 1.8M300.5 282.4l1.2 1.6M303.7 258.5l2.6 3.2M319.7 255.7l2.7 2.9M286.1 260.3l3.0 3.1M304.8 317.2l2.4 1.7M316.3 275.2l2.2 2.8M305.2 328.6l4.2 2.1M314.2 314.0l2.8 3.1M301.7 265.4l2.0 3.8M316.1 273.9l2.4 2.0M303.3 260.7l2.3 2.6M318.3 256.7l2.0 3.1M282.9 279.0l2.2 4.0M312.8 279.4l3.3 2.8M303.5 274.6l1.4 1.6M293.5 261.4l2.0 4.7M280.8 289.2l2.2 1.8M312.4 258.0l2.5 4.7M304.7 275.0l3.2 4.5M298.8 280.2l3.0 2.3M283.8 272.8l1.6 1.3M291.3 255.6l2.4 3.3M311.0 268.6l1.6 2.0M304.6 266.4l2.8 4.3M317.8 324.6l2.3 1.5M319.7 263.2l2.0 3.1M306.8 291.5l3.0 4.5M292.4 265.2l2.5 4.0M285.5 253.7l2.8 3.8M311.1 287.1l2.3 3.1M290.3 258.6l1.0 2.2M319.1 257.3l3.8 4.0M289.2 262.9l3.0 4.2M285.3 281.8l2.2 2.7M312.8 324.0l1.8 1.6M294.1 261.2l1.8 3.6M300.7 309.6l4.5 2.1M307.9 303.6l4.3 2.7M288.7 273.5l1.8 1.8M289.1 263.2l1.9 2.3M311.8 261.8l1.2 2.4M297.8 274.2l3.6 3.4M315.1 280.7l1.6 2.9M305.4 257.7l1.3 2.5M283.6 276.3l3.4 4.1M298.1 301.7l3.5 3.7M311.7 253.5l2.4 4.1M303.2 272.5l2.0 1.9M304.8 277.2l2.2 2.4M318.2 307.9l3.5 2.0M315.5 268.1l1.7 1.9M318.6 277.3l2.4 4.8M303.0 294.8l2.9 3.8M300.8 272.3l1.4 1.8M311.5 256.9l1.4 3.5M295.7 259.4l2.3 4.2M304.2 284.7l3.0 3.2M297.6 254.6l0.8 2.2M299.3 283.6l1.3 1.7M318.4 318.5l2.8 2.0M295.5 269.0l2.3 3.6M291.8 255.6l1.9 2.6M317.1 323.3l1.9 1.3M295.7 279.5l2.8 2.0M285.6 266.7l1.8 2.0M306.2 307.8l4.5 2.7M281.6 266.1l1.5 3.1M310.8 284.4l2.0 2.8M288.4 285.4l2.3 2.9M309.2 277.8l1.6 3.4" stroke="#4c4c4c" stroke-width="0.45" fill="none" opacity="0.85" stroke-linecap="round"/>
<path d="M312.4 286.0l1.7 1.8M307.3 261.8l3.3 3.2M293.8 274.3l2.1 2.0M288.7 258.1l3.1 3.2M312.7 254.5l1.7 3.1M319.8 310.0l3.1 2.0M314.8 287.8l3.5 2.5M291.9 267.2l2.8 4.2M303.3 265.6l3.3 3.7M302.7 290.8l2.0 1.7M280.5 273.1l1.9 1.5M301.6 253.7l2.3 4.5M310.2 264.1l1.4 2.4M311.1 260.3l2.3 3.5M310.5 271.4l3.1 2.9M312.0 264.3l2.3 3.6M312.5 269.6l1.7 4.1M315.5 318.2l2.9 1.4M313.5 273.9l1.9 2.3M279.3 278.7l3.7 2.9M308.3 311.1l2.1 2.8M303.0 253.4l1.7 4.2M298.9 277.8l1.9 3.2M298.1 269.5l2.3 3.5M314.8 330.2l1.5 1.3M289.8 281.5l3.5 2.6M305.9 262.8l1.0 1.9M311.3 253.6l2.7 3.0M319.4 283.7l2.4 2.7M288.3 302.1l3.1 1.9M315.8 307.4l3.1 1.9M315.9 285.5l2.2 3.9M316.3 310.1l3.2 3.5M315.0 317.6l1.6 1.4M289.0 256.7l2.8 4.3M299.4 274.6l2.6 2.8M314.7 287.3l1.6 2.8M319.0 265.4l2.2 4.2M316.9 283.9l1.4 2.3M272.5 253.9l2.6 2.5M310.0 272.7l1.5 3.2M283.2 266.6l2.1 3.0M300.1 282.6l2.6 3.0M286.4 281.0l2.0 3.5M290.1 278.5l1.7 2.5M266.6 255.1l1.3 2.7M309.3 264.0l2.8 2.9M308.9 312.9l1.9 1.3M301.7 276.6l3.8 3.8M306.9 275.9l3.6 2.9M308.0 299.7l3.2 2.0M315.5 279.4l1.4 2.2M283.4 259.5l2.1 1.9M304.8 307.4l3.0 1.6M294.3 284.3l2.5 4.0M300.6 268.2l1.7 3.7M297.4 273.4l1.0 1.9M301.1 265.0l1.0 2.2M298.2 300.6l1.8 2.5M283.1 268.5l2.6 2.3M296.6 283.0l2.8 3.0M302.0 271.5l2.2 3.7M314.4 255.5l1.1 3.3M284.4 278.7l2.7 4.6M276.6 256.0l1.5 1.4M310.3 300.4l3.1 1.9M308.5 295.5l3.2 2.1M291.6 272.0l3.1 4.1M296.0 296.4l4.2 2.6M268.5 254.0l2.1 5.0M275.3 278.8l2.4 3.4M312.4 328.0l1.5 1.4M307.4 284.8l2.2 3.3M281.7 263.2l2.5 4.8M314.2 254.4l1.4 3.7M306.6 272.5l1.8 2.5M299.5 294.1l2.1 1.6M302.8 260.3l2.6 3.4M288.5 280.9l2.5 2.9M305.3 288.2l3.0 2.4M299.1 259.9l1.3 2.8M312.5 329.0l3.5 2.6M307.1 285.6l3.8 3.0M283.8 279.7l2.0 1.9M264.1 258.8l2.8 2.8M276.8 282.8l2.9 3.2M311.2 329.3l1.9 0.9M309.0 261.5l2.4 2.6M296.5 292.4l2.5 3.6M295.3 297.7l2.5 1.6M265.3 253.9l2.1 2.6M304.8 258.5l1.6 3.5M300.1 269.1l1.4 2.6M314.4 265.6l1.3 2.2M319.7 288.9l1.3 1.7M289.7 268.3l2.8 2.5M314.9 263.8l1.6 3.8M308.1 283.0l4.1 3.3M310.0 282.9l3.8 3.7M297.0 261.9l1.6 3.1M296.0 278.2l2.4 2.4M314.6 314.9l2.7 2.4M318.9 316.1l2.4 2.3M308.2 286.0l1.1 1.8M306.2 256.6l1.6 1.9M291.1 287.7l2.4 2.5M278.4 281.8l1.8 2.5M292.3 285.5l2.2 2.2M289.3 260.0l3.0 4.3M295.5 287.0l2.2 2.8M310.5 329.7l3.5 1.5M285.6 262.8l1.3 2.6M298.9 259.5l1.8 2.5M292.6 274.7l2.7 4.6M293.5 296.7l3.4 3.9M293.3 288.3l2.8 3.0M309.7 309.6l2.6 2.6M306.4 294.0l3.0 2.7M286.2 276.8l2.0 3.1M302.6 279.5l2.8 3.8M306.2 271.1l1.6 2.2M306.9 270.5l2.2 3.0M293.8 260.6l3.5 3.1M284.5 261.0l2.1 2.9M278.1 270.7l2.0 1.8M318.7 296.0l2.9 1.9M304.4 273.0l3.4 2.7M310.5 273.9l1.8 3.3M291.7 281.4l3.3 4.1M274.0 255.8l2.2 2.5M288.3 261.4l3.2 4.1M296.1 274.7l1.7 3.2M301.9 264.5l2.5 3.6M315.5 265.2l1.8 2.3M313.3 260.0l1.7 2.2M310.8 295.6l4.1 3.2M310.5 289.8l3.4 3.0M306.7 266.6l1.7 2.2M279.3 263.7l1.6 1.3M312.8 253.3l2.3 3.9M315.8 312.8l2.8 2.6M307.0 309.2l3.1 2.4M310.1 295.5l2.9 2.1M310.9 265.1l1.5 1.7M311.9 262.1l1.5 3.9M311.4 313.0l3.5 1.9M311.5 318.2l4.5 2.1M311.5 324.4l1.6 1.5M278.1 260.3l1.1 2.4M313.8 305.2l4.2 2.6M278.1 267.6l3.1 3.7M285.2 291.6l3.0 3.7M311.4 306.6l3.0 2.5M309.8 266.7l1.2 2.1M318.6 314.4l4.2 2.4M288.4 261.8l1.2 2.4M271.7 257.5l1.5 2.3M297.0 260.5l2.1 3.4M308.5 275.2l1.8 2.4M316.1 256.1l1.1 2.4M286.7 263.2l2.2 2.5M318.0 266.7l1.3 2.3M317.6 284.1l1.5 1.6M288.4 259.6l3.0 4.6M293.6 287.2l2.7 2.9M278.5 270.6l2.6 4.4M295.0 300.2l3.1 3.0M309.0 304.0l2.8 1.7M300.8 278.1l2.4 2.3M279.7 265.4l1.1 1.8M315.8 309.6l2.2 2.6M311.5 256.5l3.0 3.7M304.3 289.7l3.4 3.4M287.4 260.3l0.9 1.9M313.2 296.7l1.7 1.6M298.6 254.7l1.3 2.7M298.3 261.2l2.9 3.5M304.8 307.6l2.7 2.6M304.9 262.6l2.2 2.8M282.4 255.9l1.6 3.3M308.3 262.8l2.2 4.9M311.4 272.5l2.9 4.2M303.1 296.4l3.3 3.9M291.6 257.2l1.3 1.7M294.3 262.5l2.9 4.3M319.7 262.5l2.9 4.4M292.7 293.6l4.5 2.7M312.5 291.8l1.6 2.0M310.5 270.6l2.2 3.0M317.0 266.3l2.0 3.3M319.2 304.2l1.2 1.7M314.8 256.7l1.8 3.8M293.7 278.8l2.1 2.8M280.6 259.4l2.1 4.1M306.0 267.2l2.3 4.1M308.0 253.3l0.7 2.1M315.7 258.6l3.9 3.8M302.1 281.8l2.1 1.9M272.9 256.1l1.4 2.2M281.2 268.8l3.1 2.7M298.4 308.1l2.6 2.5M292.4 293.8l2.2 2.3" stroke="#686868" stroke-width="0.45" fill="none" opacity="0.85" stroke-linecap="round"/>
<path d="M299.9 281.4l4.4 3.1M295.9 304.3l3.2 3.3M304.3 258.6l2.1 4.6M315.0 305.2l3.7 2.8M317.3 305.4l2.6 2.6M308.8 254.2l0.7 1.9M298.5 311.4l2.0 1.6M294.3 307.1l3.7 1.8M288.8 262.9l3.4 2.9M293.0 254.6l2.4 2.7M296.0 271.7l2.0 1.7M311.6 297.1l1.5 1.7M311.9 297.1l1.2 1.8M305.3 280.6l1.4 2.5M312.8 306.8l4.8 2.4M283.6 275.1l1.8 3.0M315.1 312.8l1.7 1.2M316.5 259.4l2.1 4.2M282.3 291.8l3.2 2.5M293.4 283.2l2.4 3.9M317.7 282.7l1.9 1.7M306.6 267.6l1.7 3.9M278.1 269.1l2.2 4.5M318.7 325.2l3.6 2.1M283.1 268.1l2.9 3.2M292.9 260.7l4.0 3.7M319.3 277.2l3.9 3.4M302.3 257.7l1.1 1.9M311.5 309.1l2.5 2.7M318.0 258.0l1.6 3.9M317.9 297.1l1.6 1.6M315.2 286.9l1.6 1.6M312.1 279.7l1.3 2.1M301.6 282.4l1.2 1.8M290.7 267.2l3.6 3.3M307.1 263.8l1.5 1.6M273.8 277.2l1.5 1.4M301.2 256.1l1.4 3.4M291.3 271.6l0.9 1.8M315.1 271.5l1.7 2.8M290.8 270.6l2.3 2.6M301.8 323.2l2.8 2.1M282.5 263.2l2.4 3.3M300.4 274.1l1.7 3.5M319.0 300.4l3.2 1.9M289.8 281.2l3.4 3.3M315.0 267.0l1.9 4.8M285.2 279.4l3.4 2.4M302.9 313.7l2.3 2.1M296.3 290.9l1.7 2.4M304.6 255.4l2.1 3.1M297.9 276.8l2.4 3.0M310.6 264.7l2.8 2.6M280.3 289.6l2.7 1.6M305.6 278.9l3.2 3.9M312.3 289.8l1.6 1.6M317.1 289.4l3.4 3.4M316.8 275.4l2.9 3.9M315.2 271.1l2.9 2.4M300.8 316.4l4.1 3.0M286.9 288.7l2.0 3.1M303.8 311.7l2.2 2.5M317.4 258.7l1.3 3.0M313.3 289.4l2.8 4.7M298.6 281.5l2.3 4.1M295.3 269.7l2.5 4.4M318.9 279.2l2.6 3.5M285.3 276.3l3.1 3.1M296.8 301.4l2.4 1.8M284.8 282.0l2.2 3.4M296.2 258.4l2.2 2.5M302.5 269.0l2.2 2.6M315.6 320.6l4.2 2.6M287.2 268.0l2.2 2.6M288.9 265.9l2.8 3.0M312.2 264.0l1.4 2.0M295.3 259.0l1.9 3.7M310.2 295.5l2.2 2.3M302.2 310.0l1.9 1.9M318.9 288.1l1.3 2.3M312.6 317.7l2.3 1.2M307.2 311.2l2.1 2.1M313.0 289.1l3.9 3.0M305.6 256.5l3.2 3.5M294.9 279.4l1.9 2.2M274.6 260.7l1.7 1.9M288.0 280.2l3.3 3.1M271.0 255.1l2.5 3.9M294.7 305.3l3.8 2.7M315.5 262.9l1.8 2.1M317.3 279.0l1.7 3.2M303.0 301.7l4.1 3.1M295.9 266.2l1.8 1.8M313.8 308.8l3.6 3.4M318.4 271.4l1.4 3.1M314.3 285.1l2.4 3.6M312.3 270.0l2.2 3.4M310.7 260.9l1.1 2.5M305.1 324.9l1.8 1.0M307.4 302.6l3.3 2.4M290.4 281.1l1.3 2.3M316.4 328.7l1.8 1.0M300.6 277.9l1.7 2.1M302.4 273.2l4.2 3.4M316.3 269.8l2.5 4.9" stroke="#8a8a8a" stroke-width="0.45" fill="none" opacity="0.85" stroke-linecap="round"/>
<path d="M274.6 271.0l2.1 1.7M309.2 274.3l2.7 4.7M298.0 264.9l1.0 1.7M295.8 297.0l3.4 2.7M307.8 267.3l1.9 1.6M281.5 278.5l1.3 1.7M295.3 253.6l2.0 2.5M307.2 285.8l2.0 2.8M314.8 302.8l2.0 1.4M300.0 309.2l2.3 2.4M277.8 254.6l1.3 2.5M299.3 289.3l2.9 1.8M318.5 261.4l2.9 2.8M312.4 264.6l1.7 3.2M293.0 255.9l2.7 3.0M310.0 292.1l1.9 2.6M302.2 297.3l3.8 2.2M295.9 283.8l2.9 2.3M314.1 309.6l3.1 1.6M317.8 278.2l1.6 1.6" stroke="#aaaaaa" stroke-width="0.45" fill="none" opacity="0.85" stroke-linecap="round"/>
<path d="M276.9 311.6l4.2 2.3M298.4 316.1l3.7 2.2M308.0 309.7l2.3 2.6M290.2 316.5l2.8 1.4M269.2 304.8l4.4 3.4M298.8 306.4l1.8 2.1M279.7 320.0l2.7 1.3M307.3 302.2l2.8 1.7M252.9 316.8l4.4 2.8M282.4 276.1l2.6 3.8M309.3 307.8l4.5 3.8M286.9 310.8l2.5 1.2M299.8 308.5l3.3 4.2M285.5 268.5l2.6 3.9M303.3 281.7l1.7 2.8M307.0 308.7l2.8 1.5M255.6 300.7l4.2 2.6M257.0 273.8l2.9 4.1M259.2 330.1l4.9 3.3M253.0 319.1l4.2 1.8M270.2 286.0l3.4 2.1M240.0 328.9l3.8 2.3M261.0 314.2l4.4 1.7M308.9 294.7l2.8 2.4M292.6 327.4l3.4 1.9M283.2 276.6l1.7 1.8M274.9 300.5l1.7 1.9M241.8 269.4l3.9 4.4M274.3 309.1l2.5 1.7M260.1 324.1l3.4 1.3M288.5 320.5l3.1 1.6M288.6 274.7l2.1 2.8M289.4 312.5l2.3 1.0M301.6 275.0l1.8 2.0M290.7 298.6l2.7 2.9M279.9 286.8l1.7 2.5M269.6 328.0l4.4 3.4M277.1 291.7l3.3 4.1M300.5 329.0l3.3 2.9M300.0 308.5l2.3 2.4M265.5 270.4l3.1 3.9M247.6 318.7l3.1 1.2M310.6 324.4l2.3 2.0M289.7 292.4l3.1 3.4M293.7 288.0l3.0 2.0M301.3 283.4l2.9 2.6M264.9 287.1l3.0 3.7M252.2 283.6l2.8 3.8M316.9 287.9l2.3 3.3M245.1 298.9l2.8 1.3M300.3 321.4l4.7 2.7M289.6 319.3l4.0 2.9M286.3 265.6l3.3 3.7M304.4 302.3l4.7 2.9M239.0 323.2l2.6 0.7M289.6 324.3l2.4 1.3M291.1 293.5l1.6 2.4M247.5 268.8l3.1 2.8M267.0 279.6l3.3 3.1M287.7 289.6l3.2 2.9M240.8 290.6l3.0 2.7M296.8 305.7l3.3 2.7M258.7 267.5l2.3 3.2M241.9 323.8l2.6 2.1M290.6 298.6l4.3 3.8M293.6 302.5l3.1 2.3M282.0 304.6l2.5 1.7M318.1 287.1l3.8 4.4M246.1 329.3l4.2 3.1M295.0 290.3l2.7 1.7M291.9 284.9l3.6 3.3M256.8 265.7l3.2 3.6M273.9 327.6l3.9 2.6M300.2 270.8l2.7 4.8M270.0 272.2l2.5 4.0M294.4 271.6l2.3 3.1M258.5 290.5l4.0 3.2M243.2 290.5l3.0 2.0M240.1 296.9l4.8 3.4M301.2 288.1l2.8 2.0M308.7 329.1l3.5 2.6M275.6 314.7l2.2 1.3M315.7 330.0l3.4 1.6M253.4 266.1l2.1 3.5M284.5 325.4l3.5 1.8M318.8 304.3l3.4 2.4M243.1 277.4l2.5 1.7M300.3 324.8l4.2 2.3M291.5 324.4l2.7 1.0M258.1 283.0l3.4 3.8M269.7 328.6l3.0 0.8M289.0 317.7l3.8 3.5M251.3 308.3l3.9 1.8M256.8 283.2l4.9 3.1M280.9 329.9l5.2 2.9M274.9 268.3l2.5 5.1M250.7 323.2l3.7 1.9M309.4 329.5l2.1 1.9M296.0 310.9l3.4 2.3M309.5 321.5l4.0 3.2M268.2 298.8l3.7 4.5M314.0 272.5l1.7 3.6M292.4 291.2l2.4 2.1M294.8 282.1l4.2 3.4M253.7 265.8l2.9 4.5M243.0 301.2l3.6 2.8M250.5 266.0l1.5 2.8M295.7 286.3l2.0 2.1M310.8 292.6l2.9 2.3M291.0 301.9l3.3 1.6M245.8 294.5l3.9 3.5M316.2 286.4l3.8 3.7M250.6 296.8l4.9 2.4M284.6 280.0l2.1 1.8M261.3 307.3l4.5 3.9M267.5 282.2l1.8 2.0M250.3 292.1l2.5 3.1M250.8 266.1l3.0 2.9M273.9 281.4l1.5 2.3M251.2 280.7l3.2 3.7M300.7 266.3l1.8 1.8M294.8 293.2l2.6 3.2M261.7 317.8l3.6 3.0" stroke="#0c0c0c" stroke-width="0.5" fill="none" opacity="0.85" stroke-linecap="round"/>
<path d="M311.9 292.9l4.0 3.4M286.2 325.5l3.8 1.8M245.9 296.7l2.5 3.0M316.6 297.7l3.3 4.6M257.3 278.8l2.0 2.9M272.6 266.7l2.5 2.1M277.4 312.5l2.8 1.2M268.9 274.9l4.0 4.1M282.7 285.1l3.0 3.1M290.1 279.1l3.3 2.2M285.9 265.8l3.4 3.5M260.9 298.7l2.5 2.0M308.9 283.4l3.1 3.3M270.7 270.0l4.5 4.0M290.4 281.7l3.3 3.1M311.8 288.6l2.1 2.1M305.5 303.0l2.2 1.9M318.9 283.3l3.5 4.8M259.1 299.4l3.6 2.0M243.7 293.3l4.5 2.8M254.0 301.8l4.3 2.1M294.1 301.4l3.9 3.8M247.3 278.5l5.1 3.1M305.8 298.6l2.6 2.0M245.8 265.6l2.3 2.6M308.4 302.4l2.4 2.3M311.7 268.4l1.0 2.4M247.4 292.5l2.7 1.8M315.2 289.3l2.7 3.4M241.5 316.2l2.1 1.9M297.2 266.6l2.6 2.3M266.0 302.1l2.9 3.1M287.4 291.9l1.9 2.9M318.7 320.9l4.1 2.4M253.4 323.3l3.1 2.3M270.1 301.8l3.9 2.5M319.8 268.6l2.4 3.3M292.9 327.6l1.9 1.8M293.0 269.8l3.6 3.2M271.2 289.9l3.4 4.0M260.1 285.6l2.7 4.1M256.9 287.8l3.9 3.5M248.5 311.0l3.5 2.6M289.7 267.2l2.4 2.1M286.1 314.3l4.7 2.2M283.6 325.9l5.3 2.7M311.7 270.7l2.9 3.2M272.9 284.2l1.9 1.9M289.7 306.1l3.0 1.5M305.9 268.0l3.4 4.7M242.3 281.7l4.9 2.7M291.7 271.3l3.4 4.8M258.8 269.1l2.7 3.2M262.7 316.3l3.6 1.6M294.1 296.8l4.3 2.8M268.0 293.0l2.6 2.2M262.7 323.3l5.3 2.3M258.3 298.5l2.8 3.2M256.8 282.1l3.9 3.9M250.5 296.1l2.1 1.8M317.9 265.2l1.1 2.3M302.3 265.9l2.7 5.3M241.2 306.0l4.6 3.5M297.6 303.3l4.6 2.8M278.1 284.2l4.0 3.6M250.6 271.4l2.5 2.8M257.5 273.9l1.6 2.5M268.9 321.5l5.2 1.8M298.4 307.7l4.6 3.3M319.5 313.7l2.8 3.6M293.4 308.3l2.4 2.1M252.3 320.9l3.0 1.6M252.1 283.5l2.0 2.1M288.4 320.6l5.1 3.0M241.1 320.9l3.5 1.5M274.2 322.2l3.2 3.2M294.1 322.5l2.1 2.1M307.6 314.6l3.2 3.9M292.7 296.2l3.5 3.9M242.7 321.0l4.6 3.3M295.1 326.5l4.3 2.0M303.4 266.9l1.5 2.4M275.0 322.0l4.4 2.6M283.8 287.0l1.8 2.7M293.8 267.0l3.4 3.8M260.6 324.9l2.7 1.6M278.3 267.6l1.1 2.3M255.8 317.9l4.9 1.8M302.8 290.1l2.5 3.3M299.5 317.4l3.0 2.6M258.4 322.2l2.7 1.8M256.5 294.9l3.4 2.6M255.2 299.3l4.6 3.2M286.6 316.8l2.7 1.1M292.2 313.4l3.9 4.6M256.8 294.1l2.2 2.2M293.9 314.2l2.6 2.7M308.6 281.9l2.3 2.1M269.9 292.2l2.1 1.5M318.8 305.8l3.7 3.6M269.5 323.3l2.8 1.8M301.6 306.1l3.0 2.9M247.7 304.8l4.2 3.0M241.9 295.3l2.5 1.3M306.1 273.0l2.6 4.0M295.6 297.2l2.1 2.6M317.2 293.3l3.1 3.7M262.9 283.3l3.6 2.5M311.4 304.7l3.3 2.4M281.9 313.9l3.5 1.5M253.8 290.6l4.4 2.7M246.7 294.3l2.9 2.2M305.0 296.7l3.4 2.8M240.6 304.8l3.3 2.5M298.9 321.2l2.1 1.6M269.0 286.8l3.8 4.6M265.7 305.7l3.0 1.9M260.8 274.3l2.9 4.1M317.1 314.0l4.2 2.5M284.2 283.2l3.8 3.5M259.7 316.9l4.7 3.1M280.3 291.8l1.5 2.0M293.2 274.8l1.8 1.9M295.8 272.3l3.5 4.0M281.9 308.5l2.3 1.1M268.7 281.4l4.4 3.2M319.0 302.1l4.6 3.2M318.8 293.2l3.4 3.9M318.6 292.4l2.4 2.5M266.2 288.3l3.3 2.3M242.0 304.3l3.3 1.4M309.9 322.9l3.3 2.8M291.9 268.5l3.2 3.5M279.8 271.6l3.8 4.0M318.8 294.1l2.9 2.8M251.8 321.3l3.1 2.6M311.9 265.3l2.4 2.5M293.4 325.3l3.4 2.5M312.5 322.9l3.3 2.1M241.4 268.3l2.9 4.6M271.5 290.7l2.4 2.4M244.6 293.0l3.8 2.1M301.8 320.7l4.6 2.2M266.2 287.3l2.9 3.3M275.7 329.7l2.4 0.9M297.9 307.5l3.5 3.8M285.0 302.5l3.1 2.3M315.9 279.0l1.6 3.0M280.4 316.5l2.8 1.1M244.6 312.2l2.2 1.7M313.7 314.8l2.9 2.8M311.2 316.7l2.3 2.2M254.5 307.3l4.0 2.4M263.1 270.5l3.1 4.1M270.8 317.2l3.2 2.3M293.6 287.0l3.8 4.1M315.1 268.4l3.9 3.5M274.3 319.0l2.7 1.8M267.2 271.3l3.6 3.6M287.9 310.1l3.2 2.3M281.7 274.1l1.9 3.3M242.1 300.6l3.4 1.6M294.2 326.5l2.8 1.8M308.2 281.5l2.6 4.6M243.9 313.2l3.0 1.1M309.7 293.7l2.5 2.2" stroke="#222222" stroke-width="0.5" fill="none" opacity="0.85" stroke-linecap="round"/>
<path d="M280.6 296.3l3.0 1.7M273.9 273.6l2.8 4.1M288.9 266.1l3.7 3.6M254.8 286.0l2.9 3.7M317.7 294.9l2.0 2.7M285.3 303.2l3.5 3.7M318.7 273.1l4.2 3.6M265.6 292.2l2.1 1.5M307.2 319.2l1.8 1.9M313.8 317.3l4.0 3.2M254.3 301.9l2.9 2.0M242.1 317.7l3.0 2.3M246.5 283.4l2.3 3.1M243.1 288.6l4.3 2.5M259.0 289.4l3.2 3.4M271.5 321.9l4.5 1.8M289.0 291.6l2.3 1.5M245.3 329.9l3.1 2.0M261.3 318.0l3.6 2.8M247.0 294.2l2.2 1.3M274.9 272.5l4.4 3.9M283.2 296.7l4.3 3.9M257.6 266.5l2.7 3.8M251.7 322.7l2.8 2.3M302.7 292.6l3.0 4.4M245.9 286.6l2.7 1.7M270.0 323.1l2.5 1.2M239.8 313.8l3.2 3.1M255.6 271.2l2.6 1.9M280.3 274.1l2.5 2.4M316.0 301.5l3.2 3.4M308.1 296.5l3.1 1.9M277.5 310.7l2.5 2.1M301.0 288.0l3.7 2.3M292.9 323.7l4.1 1.9M289.5 293.2l2.2 1.3M312.6 304.7l1.7 2.0M286.8 304.4l2.5 3.0M303.4 266.6l2.0 2.6M301.1 291.2l2.2 1.8M278.0 330.3l3.8 3.5M283.1 319.6l4.2 2.4M297.9 282.3l2.0 2.1M304.5 330.2l2.4 1.2M256.7 307.8l2.9 3.1M245.1 326.2l3.3 1.1M257.2 323.4l4.1 3.2M269.9 302.8l3.8 4.2M294.0 306.6l3.4 2.8M315.9 275.3l1.8 2.1M272.0 285.5l3.2 2.6M307.6 327.4l3.3 1.6M278.6 305.9l2.0 2.3M311.8 265.7l2.7 2.9M290.0 272.0l3.5 4.8M285.9 300.0l3.2 3.2M241.9 280.8l2.9 3.4M252.4 267.2l4.0 3.4M298.7 303.6l3.3 4.3M287.4 278.5l3.4 2.7M303.7 326.5l2.9 1.4M287.9 323.6l3.3 2.0M280.4 285.1l3.3 4.2M277.1 290.2l2.1 1.5M273.2 307.7l3.4 2.4M266.4 326.0l5.1 2.7M244.3 314.8l3.7 3.1M319.7 329.1l4.1 1.6M268.7 302.3l2.9 2.4M304.2 278.7l2.4 4.1M286.1 279.3l4.1 4.2M273.2 294.0l4.6 2.8M303.6 290.8l2.1 2.7M264.3 312.8l2.0 1.8M315.0 271.2l3.2 3.0M268.4 273.8l1.3 2.1M284.2 291.0l1.9 2.9M308.3 328.1l2.4 1.9M269.9 313.5l2.3 1.1M307.2 271.7l1.5 3.5M281.6 316.2l2.2 1.7M314.0 268.8l2.7 3.2M270.8 293.4l2.1 2.4M300.5 317.2l4.0 3.7M297.4 284.2l2.8 4.8M240.4 300.9l5.3 2.6M304.5 301.5l3.7 3.7M304.7 289.4l2.0 2.1M302.2 324.1l2.5 1.5M312.0 316.5l5.0 2.4M315.8 313.0l3.4 1.7M267.8 295.1l3.7 2.3M248.2 287.6l3.4 2.7M303.7 279.1l1.2 2.3M284.9 282.9l2.4 2.3" stroke="#303030" stroke-width="0.5" fill="none" opacity="0.85" stroke-linecap="round"/>
<path d="M318.4 316.8l4.7 2.6M300.4 266.4l1.7 2.1M278.1 313.3l3.7 4.2M303.0 316.7l2.6 3.0M240.5 328.0l2.4 2.0M260.6 319.8l2.3 1.7M272.7 278.9l3.0 4.6M293.0 289.8l3.6 2.7M313.7 305.4l4.7 2.6M263.2 306.8l3.4 1.4M240.4 299.6l2.6 1.9M271.1 307.0l3.4 2.5M285.2 315.6l2.9 1.2M280.0 310.5l2.8 2.9M305.9 317.4l3.6 2.0M257.8 306.7l3.9 2.7M293.1 306.2l2.9 3.0M271.7 276.1l1.6 2.5M290.9 314.6l2.5 2.0M318.7 288.1l1.2 2.2M300.5 292.6l3.3 2.5M267.0 280.1l1.7 2.6M267.7 329.7l2.8 2.3M282.4 277.7l2.5 2.0M308.7 313.1l3.2 1.7M275.3 322.9l3.3 2.9M280.0 309.9l2.8 2.9M276.9 292.5l2.6 2.1M256.7 270.6l3.6 3.1M300.4 316.3l2.9 2.0M295.4 320.2l4.1 3.7M271.5 326.6l2.6 2.1" stroke="#424242" stroke-width="0.5" fill="none" opacity="0.85" stroke-linecap="round"/>
<path d="M246.9 295.0l3.8 2.8M266.9 298.3l1.9 1.9M300.9 310.3l3.1 2.9M249.4 278.5l2.8 4.4" stroke="#5a5a5a" stroke-width="0.5" fill="none" opacity="0.85" stroke-linecap="round"/>
<path d="M283.3 308.1l0.4 0.3M276.0 300.8l0.4 0.3M282.1 308.5l0.4 0.3M291.9 309.3l0.4 0.3M296.1 297.2l0.4 0.3M280.2 298.5l0.4 0.3M301.3 307.8l0.4 0.3M299.9 308.4l0.4 0.3M278.8 303.3l0.4 0.3M279.2 309.5l0.4 0.3M286.6 301.0l0.4 0.3M293.7 294.3l0.4 0.3M285.5 295.2l0.4 0.3M294.4 302.9l0.4 0.3M278.0 292.0l0.4 0.3M299.6 294.0l0.4 0.3M274.9 300.6l0.4 0.3M278.6 296.7l0.4 0.3M290.7 289.7l0.4 0.3M295.6 295.0l0.4 0.3M273.4 297.4l0.4 0.3M280.8 303.3l0.4 0.3M273.4 294.3l0.4 0.3M287.1 301.4l0.4 0.3M283.6 296.5l0.4 0.3M302.9 300.1l0.4 0.3M286.2 307.4l0.4 0.3M283.0 292.2l0.4 0.3M305.0 304.4l0.4 0.3M296.5 308.5l0.4 0.3M273.7 299.0l0.4 0.3M284.8 290.0l0.4 0.3M303.1 304.2l0.4 0.3M293.1 309.2l0.4 0.3M275.4 296.5l0.4 0.3M284.4 292.1l0.4 0.3M276.8 302.7l0.4 0.3M274.3 290.3l0.4 0.3M302.7 296.2l0.4 0.3M302.1 295.8l0.4 0.3" stroke="#7a7a7a" stroke-width="0.6" fill="none" stroke-linecap="round" opacity="0.8"/>
</g>
<ellipse cx="281.0" cy="285.6" rx="8.5" ry="5.6" fill="#0b0b0b" filter="url(#blur1)" transform="rotate(14 281.0 285.6)"/>
<g filter="url(#blur1)">
<path d="M236,250 L271,250 C264,257.5 254,262 236,269.5 Z" fill="#c2a070"/>
<path d="M236,250 L258,250 C252,256.5 245,260 236,264.5 Z" fill="#d8c090"/>
<path d="M236,250 L247,250 L243,256.5 L236,260 Z" fill="#ecdcb6"/>
<path d="M259,251 L272,251 L262,259 Z" fill="#8d7350" opacity="0.8"/>
<polygon points="311,250 322,250 322,268" fill="#c6c6c6"/>
</g>
<g filter="url(#blur15)">
<ellipse cx="314.5" cy="320.5" rx="8.6" ry="9.4" fill="#47211d"/>
<ellipse cx="311.8" cy="313.6" rx="5.0" ry="4.4" fill="#8c6c68" opacity="0.85"/>
<ellipse cx="318" cy="324.5" rx="4.5" ry="5.5" fill="#70281e" opacity="0.9"/>
</g>
<path d="M311.3 312.6L310.9 307.9M314.2 312.3L315.5 307.7M307.2 315.4L304.8 313.0M315.7 313.3L318.0 309.3M312.3 312.3L312.4 308.0M304.8 318.4L301.1 317.6M307.0 313.9L304.7 311.1M308.1 316.8L305.2 314.4M307.7 317.3L303.6 314.6M307.4 322.5L304.5 324.1M310.5 314.2L309.3 309.7M304.4 319.8L301.4 319.7M315.2 314.4L317.6 310.3M309.2 315.1L306.7 311.0M306.7 320.2L302.4 320.3M305.3 321.2L302.2 321.8M309.2 317.1L307.4 315.1M305.3 321.9L300.6 323.3M312.6 314.3L313.0 310.1M313.4 317.3L314.9 314.5M307.8 320.8L303.2 321.7M313.3 316.2L314.8 311.6M309.3 318.2L306.6 316.4M304.7 316.8L301.0 315.1M307.2 320.1L302.6 320.3M312.8 315.7L313.6 311.3" stroke="#b09090" stroke-width="0.45" fill="none" opacity="0.38" filter="url(#blur0)"/>
<path d="M308.4 318.2L305.9 317.0M312.0 316.5L311.9 312.0M307.8 317.2L304.8 315.3M312.3 315.7L312.6 312.4M311.9 315.3L311.7 310.3M312.2 313.9L312.2 310.8M308.5 312.8L307.4 310.6M311.6 315.8L311.1 311.0M306.5 320.0L302.7 320.1M313.0 316.1L314.2 311.3M306.8 318.2L302.9 316.8M310.9 312.2L310.2 307.4M305.1 319.1L301.0 318.5M305.8 318.1L302.3 317.0M308.7 315.7L306.5 312.7M307.6 320.8L304.8 321.4M306.0 319.5L301.5 319.2M305.3 316.9L302.0 315.4M307.2 317.2L303.0 314.7M315.7 313.5L317.6 310.2" stroke="#241010" stroke-width="0.5" fill="none" opacity="0.45" filter="url(#blur0)"/>
<g stroke="#8e8e8e" stroke-width="0.75" fill="none" opacity="0.8" filter="url(#blur0)">
<path d="M238,310.6 Q251,311 264,313.4"/>
<path d="M247,329.4 Q262,326.6 288,325.4"/>
<path d="M250,303 Q266,305 284,311" stroke="#3e3e3e"/>
<path d="M262,316 Q278,317 296,321" stroke="#383838"/>
</g>
<g filter="url(#blur0)">
<line x1="237" y1="267.8" x2="255.6" y2="276.6" stroke="#e2c63a" stroke-width="2.2"/>
<line x1="240" y1="268.6" x2="255" y2="275.8" stroke="#f2e27a" stroke-width="0.8"/>
<line x1="254.8" y1="276.2" x2="274.6" y2="285.8" stroke="#c43c58" stroke-width="2.3"/>
<line x1="262" y1="279.2" x2="274.6" y2="285.3" stroke="#ee9aaa" stroke-width="1.0"/>
</g>
<ellipse cx="281.0" cy="285.6" rx="5.7" ry="3.3" fill="#000" transform="rotate(14 281.0 285.6)"/>
<ellipse cx="284.0" cy="285.9" rx="1.2" ry="0.9" fill="#e0e0e0"/>
<ellipse cx="283.6" cy="290.4" rx="1.6" ry="0.8" fill="#a8a8a8"/>
<ellipse cx="278.6" cy="288.6" rx="1.2" ry="0.6" fill="#777"/>
<polygon points="242.7,285.5 254.3,277.8 251.5,291.2" fill="#fff"/>
</g>
<clipPath id="clip2"><rect x="238.8" y="348.8" width="81.0" height="76.8"/></clipPath>
<g clip-path="url(#clip2)">
<rect x="238.8" y="348.8" width="81.0" height="76.8" fill="#1a1a19"/>
<g filter="url(#blur2)">
<polygon points="264,346 322,346 322,400 300,396 286,372 272,358" fill="#444444"/>
<polygon points="276,350 312,348 320,384 300,376" fill="#555" opacity="0.7"/>
<polygon points="284,388 316,390 306,408 288,402" fill="#2e2e2e"/>
<polygon points="239,394 278,408 300,428 239,428" fill="#0c0c0c"/>
<polygon points="239,372 262,384 262,392 239,392" fill="#161616"/>
</g>
<g filter="url(#blur0)">
<path d="M286.1 350.2l2.7 3.8M310.6 407.7l1.7 1.6M315.8 370.6l1.9 2.8M303.5 400.6l2.4 2.1M289.1 357.6l1.6 3.5M293.5 351.9l2.9 4.1M298.2 414.3l2.1 1.9M317.7 410.3l1.8 2.1M297.9 367.8l1.2 1.8M316.8 370.6l3.1 2.6M287.1 363.0l1.5 2.2M298.3 373.6l2.5 2.7M305.4 356.0l1.3 2.6M308.7 356.6l3.1 2.9M312.7 359.5l1.1 2.4M290.3 384.3l2.9 2.8M308.3 401.0l2.6 2.0M316.4 422.9l3.3 2.2M301.5 361.3l2.0 4.0M317.6 367.6l3.1 4.4M295.4 393.3l2.8 3.3M313.1 381.0l3.3 3.6M296.7 389.7l1.6 1.3M316.4 374.1l2.4 3.0M297.5 363.7l1.8 4.1M286.2 357.1l2.9 4.5M282.2 375.7l2.5 3.6M311.4 419.0l3.9 3.5M313.2 386.3l2.6 2.1M315.6 351.4l1.9 4.1M317.7 365.3l2.1 2.1M316.1 403.7l4.6 2.9M309.3 387.8l3.1 2.5M295.3 383.1l4.0 3.7M315.0 421.2l2.2 1.3M319.0 401.4l2.4 3.5M311.3 407.8l3.2 3.3M291.4 364.3l1.9 1.8M297.5 394.4l2.3 2.4M315.1 399.0l2.7 3.5M304.2 424.1l1.6 1.5M307.9 401.8l2.7 2.5M276.3 357.5l2.4 2.0M301.2 391.2l1.8 1.1M318.2 389.5l2.0 2.0M277.0 355.0l1.5 2.7M300.4 352.5l2.4 3.2M289.4 372.0l1.9 3.4M293.0 355.3l1.5 1.8M302.1 382.4l2.4 2.6M314.2 360.5l3.2 3.2M316.6 380.5l2.4 2.0M291.2 368.1l1.6 3.0M298.3 386.3l3.4 2.1M310.4 384.2l1.9 2.1M314.9 363.1l2.7 3.2M319.2 396.6l2.1 1.9M304.5 399.6l1.8 1.6M310.0 390.5l3.6 3.7M307.5 370.9l2.9 3.2M308.6 418.0l3.3 2.3M305.9 372.5l3.9 3.2M308.9 353.3l1.5 1.7M294.1 363.3l3.4 4.1M297.7 373.1l4.2 3.0M319.5 377.7l3.7 3.8M277.8 349.3l2.2 2.1M313.8 355.1l2.4 3.2M297.5 351.2l2.4 4.6M292.6 349.4l1.3 2.8M297.0 348.8l1.4 2.4M314.2 396.6l4.5 3.0M310.9 385.1l1.7 1.9M319.3 388.8l1.9 3.2M315.7 381.8l3.7 2.7M266.1 352.8l2.3 4.1M295.9 365.5l1.8 2.7M280.4 374.8l2.1 2.3M311.9 366.2l1.4 2.5M290.2 362.7l3.3 4.3M313.3 389.2l2.5 1.6M318.9 376.2l1.6 2.8M315.8 372.3l2.5 4.5M302.0 367.5l2.6 3.6M319.7 385.6l2.6 3.9M282.9 350.3l1.4 3.5M314.7 358.6l1.3 2.5M308.9 374.7l1.8 2.0M308.6 353.3l2.4 2.6M317.0 354.0l1.1 3.1M309.8 411.2l2.4 1.2M302.2 371.9l1.8 1.6M291.3 353.2l3.4 4.0M307.5 399.1l3.5 2.8M312.8 372.2l1.2 2.1M289.6 356.1l3.0 3.8M301.4 389.3l1.5 1.5M312.5 394.1l2.9 3.6M303.6 359.8l3.1 3.0M303.0 371.9l2.8 2.8M296.5 392.6l3.3 3.7M311.4 358.9l1.2 2.0M302.6 400.0l2.9 3.9M301.4 406.3l1.9 1.0M309.1 393.1l2.5 2.4M295.1 404.3l3.6 2.1M310.4 406.2l2.0 0.9M313.6 401.7l4.3 2.5M306.6 395.3l2.5 2.7M270.7 351.4l2.2 3.0M302.3 396.9l3.0 3.9M318.3 380.0l2.7 1.9M315.8 358.8l2.3 4.6M297.7 357.4l1.9 2.3M298.4 354.1l3.7 3.5M306.8 355.5l2.7 2.6M315.5 376.8l2.8 3.6M294.6 353.0l1.8 1.8M318.4 403.0l2.9 2.3M312.3 352.2l2.5 4.7M287.6 354.0l2.6 4.5M305.1 373.1l2.3 1.9M277.5 359.6l2.2 3.3M296.6 365.9l3.9 3.2M315.2 403.1l2.2 2.8M319.6 359.6l2.0 3.8M308.7 408.4l2.0 1.7M292.9 406.8l2.7 2.5M314.7 380.9l2.1 2.0M317.7 372.6l1.3 2.5M294.7 362.4l1.5 3.3M319.2 383.6l2.4 2.9M274.8 363.5l2.5 4.3M311.1 405.5l1.9 2.3M307.1 353.5l3.0 3.3M302.4 361.3l2.8 4.7M293.8 391.2l2.8 3.1M314.6 405.2l3.3 3.1M317.7 424.6l3.5 1.5M284.1 374.7l1.9 2.3M305.9 389.1l1.4 1.8M278.8 352.5l1.9 2.3M276.9 360.7l1.5 1.6M316.3 418.8l3.5 2.6M301.6 394.0l2.0 1.1M306.2 404.9l4.2 2.7M309.9 387.2l1.3 1.9M309.9 365.4l1.8 3.1M318.2 350.6l2.7 4.0M304.0 390.5l3.2 3.8M309.0 386.3l3.3 2.4M286.5 394.3l3.8 2.9M309.9 378.3l1.6 1.9M310.0 399.2l2.3 1.6M304.4 357.9l1.8 3.4M301.3 408.4l2.3 2.5M312.7 384.9l2.7 1.8M298.3 390.1l2.3 2.1M295.1 376.7l1.3 2.1M300.2 384.6l2.2 3.5M306.2 418.9l3.2 2.4M315.3 359.9l2.8 3.3M293.7 362.1l1.8 2.1M312.1 395.3l3.1 1.8M312.6 375.1l3.4 3.4M315.8 352.6l1.2 2.1M316.2 352.7l1.8 3.6M316.4 400.4l2.5 2.5M315.5 422.9l3.0 2.4M293.5 362.4l1.3 3.0M295.3 351.1l0.8 1.8M278.3 349.9l1.5 1.9M319.0 418.8l3.3 2.3M312.2 407.3l2.4 2.0M316.9 420.9l2.3 2.2M319.0 420.0l2.6 1.4M293.2 370.3l4.2 3.4M295.2 360.8l1.4 2.1M299.4 360.6l3.0 3.1M302.0 392.4l4.2 3.5M303.7 355.4l1.4 2.0M269.9 365.6l3.7 3.2M312.4 400.4l2.0 1.9M273.5 351.4l2.7 4.1M301.1 357.6l3.1 2.8M314.1 375.9l4.2 3.2M308.8 386.5l2.5 2.1M296.5 354.5l1.7 1.5M301.0 354.1l2.0 2.1M298.5 371.6l2.8 2.9M283.2 369.1l1.5 1.9M314.8 389.1l1.4 1.8M311.6 359.6l0.8 2.0M306.3 401.8l3.5 2.5M309.1 364.0l0.9 1.9M285.4 349.4l1.7 3.6M263.8 352.7l2.3 4.1M315.4 413.3l3.0 2.1M298.2 361.0l1.8 2.4M287.7 356.1l2.4 4.2M307.5 416.3l1.4 1.5M319.2 377.6l1.3 2.4M293.2 387.3l1.6 1.8M313.3 372.3l2.5 3.7M312.7 400.0l2.4 2.2M307.4 402.3l3.2 2.3M311.9 398.7l3.3 4.4M295.7 411.7l2.7 2.5M317.0 363.8l2.1 3.4M262.0 353.1l2.5 4.7M296.9 352.6l1.0 2.6M316.9 387.5l3.3 2.6M306.7 412.6l1.4 1.6M306.0 350.8l1.8 4.1M283.5 382.9l2.8 2.0M307.5 406.6l3.2 1.9M290.5 384.1l3.0 2.7M295.1 350.2l1.8 4.5M312.2 372.5l2.8 4.5M318.8 358.3l1.0 2.6M311.4 370.7l2.6 2.1M318.9 360.6l2.4 4.1M285.8 361.5l3.1 3.0M299.2 401.4l2.3 1.8M278.0 369.0l2.8 2.7M272.4 352.7l2.0 2.9M309.2 358.8l1.3 1.6M311.5 377.5l2.5 4.0M304.1 370.4l3.0 3.9M310.3 396.0l2.1 2.0M313.9 408.3l4.0 3.1M302.7 401.5l3.2 3.4M317.2 403.1l3.2 1.9M299.2 415.8l2.2 1.9M309.6 359.8l1.9 1.9M275.1 354.1l2.7 3.2M315.2 371.9l1.6 3.5M315.8 377.1l3.9 3.2" stroke="#1c1c1c" stroke-width="0.45" fill="none" opacity="0.85" stroke-linecap="round"/>
<path d="M315.3 389.6l2.2 1.5M290.8 387.0l1.9 1.3M298.5 364.2l2.9 3.5M287.2 366.1l1.1 2.3M305.7 361.4l2.2 2.9M319.7 379.7l3.4 3.4M311.1 402.4l1.9 2.6M295.6 376.8l2.3 3.1M311.6 401.8l2.3 2.5M292.6 372.4l2.2 1.6M303.7 378.8l2.8 2.6M311.1 416.6l4.4 2.5M306.3 392.3l1.3 2.0M306.2 354.3l1.6 2.7M313.8 373.4l4.1 3.5M311.2 407.0l2.7 1.5M310.6 367.9l3.6 3.2M300.7 369.8l3.1 2.7M316.6 363.8l2.2 2.1M310.7 420.4l1.8 1.6M318.3 349.2l1.8 4.0M291.6 349.6l1.1 2.5M314.2 403.2l3.9 3.5M308.4 376.6l1.7 2.0M305.5 386.3l3.9 3.2M304.6 410.1l3.1 1.5M304.4 381.0l1.7 2.4M296.8 381.3l2.5 2.3M301.6 387.7l4.7 2.8M309.2 376.5l2.9 2.2M311.3 386.8l2.2 3.5M285.9 360.9l2.4 2.5M298.5 355.9l1.3 2.1M307.3 370.4l2.2 2.9M284.6 367.2l2.5 3.4M295.7 372.8l2.0 3.4M309.0 352.4l2.8 2.9M285.0 357.1l1.2 2.3M317.4 363.0l1.4 3.1M308.1 362.7l1.2 1.9M305.7 377.0l2.2 3.1M309.4 370.9l2.3 4.7M319.2 378.0l1.0 1.9M288.7 352.6l2.8 3.5M294.1 390.0l3.6 3.7M311.2 387.0l2.8 3.6M309.4 374.6l1.6 2.5M309.0 357.0l1.1 2.9M306.9 394.9l1.7 1.1M316.9 373.5l3.9 3.7M303.6 349.0l2.4 3.8M300.0 379.8l2.5 3.8M315.5 376.5l3.0 4.2M282.1 354.2l1.5 2.1M277.5 361.8l2.2 3.4M310.2 376.6l3.9 3.2M308.4 381.1l1.7 2.2M290.4 383.0l2.3 3.7M269.9 354.0l1.4 2.9M304.1 369.5l3.2 4.3M316.4 376.1l4.1 3.7M306.4 382.5l2.6 1.9M298.0 358.9l2.1 2.2M316.0 400.7l3.3 2.9M304.5 424.5l4.6 2.0M300.7 386.9l1.4 1.5M316.4 358.9l1.9 4.2M318.1 390.1l1.7 2.0M311.1 408.6l2.8 3.2M281.6 360.9l1.6 2.9M314.0 348.9l2.1 3.9M318.0 362.3l2.5 3.9M310.5 356.0l2.1 4.1M305.6 371.0l2.4 4.7M301.0 354.5l1.5 3.7M307.5 382.7l3.1 2.8M309.0 360.1l2.5 2.4M316.8 412.5l1.7 2.0M292.1 361.3l2.8 3.1M276.3 360.8l2.9 3.8M316.2 408.3l1.5 1.8M319.0 378.0l1.6 2.4M315.1 389.9l4.2 2.7M311.5 366.5l2.4 3.3M276.6 353.1l2.3 5.0M299.6 371.0l1.7 1.8M302.1 359.4l2.1 3.5M299.2 410.7l1.4 1.7M303.9 404.5l2.9 1.6M298.1 361.0l1.8 2.0M309.1 392.6l3.4 2.3M282.1 357.8l3.9 3.3M318.9 393.7l1.8 2.8M312.4 384.5l2.6 3.7M310.0 409.2l4.0 2.5M301.1 413.3l3.6 2.9M316.3 423.7l4.7 2.8M282.0 353.7l1.3 2.1M318.2 397.6l1.8 2.0M304.5 387.3l1.7 1.6M295.3 373.7l2.8 4.3M292.2 361.9l1.4 2.7M315.5 368.8l1.6 3.1M310.7 360.5l3.0 3.3M277.5 352.8l1.9 3.8M312.5 390.7l4.1 2.8M305.0 395.9l1.3 1.8M303.9 363.8l1.4 2.3M272.0 370.4l3.0 4.0M309.0 401.0l2.8 1.7M314.7 398.5l2.4 3.2M319.1 368.7l1.6 3.4M316.5 383.8l3.1 4.3M314.0 395.4l2.0 1.5M312.4 387.8l1.4 1.5M289.1 359.1l1.6 2.9M284.5 350.9l3.8 3.9M304.4 374.4l2.2 4.3M305.2 401.7l3.3 2.6M307.3 418.2l4.0 2.4M314.7 362.4l1.5 2.1M296.5 394.3l3.0 2.8M309.0 353.1l1.9 3.4M289.9 363.5l3.4 3.9M296.2 355.5l2.1 4.1M305.0 374.2l3.0 2.4M289.0 359.7l2.2 2.6M309.9 400.1l1.6 1.7M312.6 362.5l2.0 4.8M317.9 372.0l3.3 3.3M306.8 365.1l1.5 3.1M298.0 351.9l3.6 4.1M282.8 351.2l1.3 3.2M306.9 353.1l1.6 1.7M314.3 378.9l2.3 3.4M285.2 372.1l2.3 3.7M308.3 387.7l2.1 1.3M314.2 398.6l3.3 2.0M293.1 389.0l2.9 2.3M297.2 412.5l3.0 1.8M313.6 394.3l1.4 2.1M315.4 361.0l1.6 3.6M273.3 369.0l1.6 1.7M303.4 359.9l1.4 1.4M283.0 382.3l2.2 1.8M294.8 350.3l2.1 2.6M294.0 367.3l2.3 1.8M311.6 387.3l2.7 3.4M289.2 376.0l4.0 3.2M280.8 358.5l2.4 2.5M266.9 351.7l2.3 2.8M277.5 376.9l3.5 3.4M305.3 386.2l1.5 1.8M319.4 351.3l1.4 3.4M305.0 352.8l1.5 3.3M319.1 397.7l2.1 2.2M289.7 363.0l3.0 2.5M293.2 389.7l2.5 3.6M319.1 402.7l3.6 4.0M293.7 366.7l4.0 3.7M293.9 349.0l3.7 3.7M316.8 388.4l2.7 2.0M315.3 366.0l2.7 3.3M300.8 364.7l1.3 1.8M314.7 411.8l2.9 3.4M311.8 414.7l4.6 2.9M297.8 376.9l3.3 3.1M297.9 371.6l2.4 3.4M307.4 397.2l1.3 1.9M295.0 366.2l2.9 2.2M281.8 351.6l2.2 2.1M311.7 374.7l2.2 4.6M299.3 410.2l2.1 1.3M294.4 381.6l1.9 1.9M279.9 359.4l1.5 2.6M307.1 351.9l3.5 3.9M267.4 353.2l1.4 2.2M303.2 392.9l2.9 2.1M277.0 349.0l1.1 2.5M318.2 383.7l3.4 2.4M311.6 416.9l1.6 1.4M290.8 350.6l1.0 2.5M289.6 372.5l2.2 2.1M290.3 361.1l2.2 4.9M291.3 355.8l2.8 2.6M290.3 381.8l1.4 2.3M305.7 367.0l1.6 2.2M303.3 375.2l4.1 3.3M296.0 366.0l2.0 3.9M274.2 363.6l1.0 1.8M305.2 424.6l2.9 2.0M311.5 386.5l1.7 2.1M317.8 418.5l3.7 3.7M307.3 405.6l2.0 1.6M290.8 368.3l2.5 2.9M317.5 351.4l1.8 3.7M307.3 366.4l1.3 1.7M312.9 410.8l3.6 3.7M312.8 415.7l2.2 1.0M313.2 353.8l1.9 4.5M291.7 353.1l1.3 2.6M317.9 417.4l4.5 2.0M304.9 398.6l2.9 3.7M315.4 391.4l3.4 2.5M313.3 358.6l1.8 1.7M319.5 382.5l1.1 2.1M289.1 357.6l2.2 4.2M311.4 387.9l1.7 1.6M281.6 372.8l1.7 1.5M301.2 372.6l1.8 3.0M305.8 350.6l1.7 1.7M302.6 392.0l3.0 2.5M314.7 371.7l2.1 3.6M286.4 360.7l1.2 2.6M299.1 389.2l3.9 2.6M310.4 388.5l3.3 3.3M296.0 393.2l4.6 2.8M296.6 396.0l2.8 3.7M288.9 392.4l3.3 4.1M300.3 395.5l2.2 2.9M302.9 382.2l1.6 2.1M293.3 389.5l2.3 1.5M294.1 374.1l2.2 2.8M306.6 412.3l1.8 1.8M276.4 374.2l1.5 2.1M302.4 381.6l3.4 4.0M307.2 411.5l3.2 3.8M316.5 350.4l0.8 2.2M306.0 349.8l1.9 3.8M297.8 357.1l2.9 2.8M284.9 366.0l3.6 3.0M317.3 414.4l1.9 1.1M318.8 377.8l1.7 1.6M315.9 395.8l1.9 2.1M318.1 369.0l2.8 2.5M310.1 392.7l4.5 2.8M278.6 361.6l1.4 2.8M287.9 364.8l3.3 3.2M318.6 349.0l2.8 4.0M315.6 388.6l2.7 2.8M309.5 351.6l3.1 3.4M318.0 407.8l4.3 2.8M305.1 373.1l3.2 3.2M308.7 380.1l3.7 3.1M302.1 412.5l4.5 2.7M281.6 365.7l3.6 3.9M307.6 408.6l1.5 1.3M315.0 393.7l4.2 3.1M313.6 408.6l2.6 1.2M315.2 409.8l4.1 2.6M281.7 364.7l2.5 4.1M283.8 369.7l2.3 1.8M312.6 411.1l3.8 1.7M315.6 371.8l1.2 1.6M305.4 391.7l3.2 2.7M305.2 374.4l3.0 2.7M290.6 382.2l4.0 2.7" stroke="#303030" stroke-width="0.45" fill="none" opacity="0.85" stroke-linecap="round"/>
<path d="M274.3 349.4l1.8 2.1M308.3 381.9l1.9 1.5M309.0 377.9l3.0 3.7M295.5 391.2l3.1 4.3M317.8 398.3l4.1 2.3M294.1 350.4l2.2 2.1M286.3 362.3l2.0 2.7M319.6 406.6l2.0 2.5M271.0 360.4l2.4 3.7M308.4 404.6l3.8 3.7M300.4 389.8l1.8 1.8M306.2 359.8l1.9 3.1M290.9 379.4l2.4 3.0M308.8 397.7l2.1 2.4M310.4 398.1l3.7 3.3M302.0 364.7l2.7 3.8M297.9 351.0l1.5 3.2M308.9 375.5l1.9 1.5M294.7 379.7l2.2 2.7M309.8 354.5l3.1 3.9M316.6 415.4l2.6 2.7M291.6 396.6l3.2 2.5M318.0 363.1l2.0 3.6M303.0 350.0l0.9 2.4M305.0 360.9l2.7 4.2M313.9 352.6l3.1 3.8M297.1 375.7l2.8 4.2M293.3 364.7l2.8 2.4M308.3 351.8l1.5 4.3M282.9 351.2l3.4 3.4M287.5 359.6l1.5 3.4M311.5 392.6l3.8 2.3M311.5 355.1l3.0 3.9M296.1 412.1l2.9 3.2M301.2 400.7l2.8 1.7M285.8 376.9l2.1 1.5M315.9 415.1l2.0 1.4M311.5 363.7l2.5 3.5M282.9 376.0l1.5 2.2M319.7 370.4l2.9 3.5M288.8 354.7l2.3 2.2M280.1 349.9l3.7 3.7M310.6 400.4l4.3 2.6M276.1 350.8l3.5 3.3M289.5 371.5l2.0 3.1M313.6 371.5l1.1 2.0M306.9 351.2l1.1 2.9M306.2 388.6l2.3 1.4M296.9 397.2l2.2 1.6M307.1 404.7l2.3 1.2M295.4 377.4l2.5 4.2M273.5 369.6l2.2 3.7M292.8 374.9l2.4 1.9M269.6 366.8l1.5 1.5M292.6 388.5l3.1 3.0M309.2 423.3l3.2 2.1M312.3 352.7l2.2 3.6M316.0 424.7l2.4 1.7M311.7 407.4l1.6 1.6M300.8 355.9l2.3 3.6M307.4 350.3l2.3 3.4M304.0 367.5l1.3 2.1M318.5 364.7l1.6 1.6M310.5 393.0l1.2 1.8M318.6 383.4l1.4 1.8M314.7 361.0l2.3 4.4M302.3 354.1l2.1 2.0M308.6 418.3l2.3 2.1M306.9 393.1l2.1 2.0M292.5 376.9l3.1 2.5M287.2 356.3l3.1 4.1M309.7 411.6l3.8 3.9M317.4 359.3l2.0 2.7M306.4 386.3l2.5 3.7M278.4 367.3l3.5 3.4M312.3 419.4l3.9 2.9M306.7 355.8l2.5 2.5M308.0 380.3l1.0 1.8M317.6 382.7l3.4 4.1M302.9 395.2l3.4 2.5M311.3 379.3l3.3 2.4M285.8 355.0l1.2 2.8M298.6 409.4l2.0 1.5M313.6 361.0l3.1 2.9M318.5 360.5l1.0 2.1M301.1 388.4l3.0 2.7M314.8 363.9l1.6 2.4M302.2 367.4l1.4 1.7M278.2 350.7l2.4 4.3M291.7 387.5l3.9 3.7M299.5 355.8l1.0 2.3M295.8 398.0l2.0 2.6M312.6 358.9l2.3 3.1M301.2 392.4l2.2 1.6M300.9 406.5l2.5 2.1M289.3 398.2l1.8 1.7M314.3 352.6l1.9 4.2M317.9 382.1l1.6 1.7M318.4 402.8l2.8 2.4M308.7 355.1l3.6 3.3M303.4 378.4l1.4 2.5M313.1 357.8l2.5 2.8M288.2 380.4l2.3 2.7M277.2 355.4l1.4 2.0M310.4 393.3l1.6 1.7M299.4 386.2l1.9 2.4M290.4 353.6l2.6 2.7M295.4 365.6l1.5 2.5M319.6 369.1l2.3 2.8M292.3 361.9l4.0 3.2M308.3 390.4l4.3 3.1M282.9 355.2l1.6 1.5M306.0 421.1l3.8 1.7M304.4 350.8l1.8 2.0M316.4 361.2l1.8 2.0M314.5 370.2l1.4 2.6M300.7 376.8l1.5 1.8M290.0 358.2l1.6 1.7M312.1 379.9l1.6 1.7M302.8 364.5l1.4 1.6M318.9 368.7l2.2 2.9M300.7 375.3l3.7 2.9M300.7 357.5l2.9 2.6M303.1 376.2l3.0 2.5M309.0 350.9l2.9 4.0M290.8 361.2l3.1 4.2M319.7 389.4l2.4 4.2M312.1 405.0l2.5 1.6M291.6 364.1l2.9 3.2M300.6 404.0l1.8 1.7M302.0 373.3l2.6 4.5M319.1 361.9l2.0 4.3M304.2 399.0l4.6 2.4M277.9 356.8l2.1 4.1M294.0 394.0l3.2 1.7M294.9 359.3l3.5 3.0M292.2 376.9l2.4 2.5M290.1 397.9l2.9 3.9M286.1 376.1l2.9 4.0M310.9 389.8l2.1 3.0M318.8 389.2l3.9 3.2M311.9 413.4l1.8 1.6M289.4 349.5l1.9 2.6M299.4 360.6l1.3 2.4M287.4 351.5l3.5 3.6M277.6 355.2l1.8 3.4M317.2 388.9l2.1 2.3M319.2 349.5l2.0 2.3M300.0 350.4l1.3 1.7M289.9 371.7l2.3 3.0M301.5 355.2l2.3 2.5M291.8 391.6l2.8 4.1M292.4 375.7l2.1 3.7M285.2 359.8l1.6 3.0M316.5 379.6l4.4 3.3M281.6 353.2l1.9 2.7M275.1 363.7l2.6 2.7M309.6 396.2l2.0 2.1M317.2 365.7l1.6 1.6M316.6 418.3l4.0 2.7M316.4 405.0l3.2 1.9M308.0 374.8l1.8 3.7M317.7 348.9l2.5 3.1M314.5 364.1l1.7 1.6M272.3 355.5l2.4 2.4M291.4 370.3l2.0 3.0M293.5 356.3l2.0 4.6M304.8 378.9l2.6 3.9M306.6 413.9l1.5 1.4M316.8 392.9l3.6 3.2M287.3 371.8l2.5 3.0M305.2 383.9l1.7 1.6M315.8 402.3l3.9 3.4M313.0 352.8l3.3 3.7M294.8 390.4l1.9 2.0M315.8 405.4l3.1 4.1M303.3 360.9l2.2 2.3M299.9 388.9l2.9 2.4M314.3 400.7l4.0 3.2M306.1 350.8l3.0 4.6M319.4 411.8l2.8 2.9M316.7 395.5l1.2 1.7M303.7 358.3l1.5 3.6M292.3 392.7l2.1 1.2M310.4 362.6l2.1 4.7M306.8 374.8l2.1 2.8M305.1 371.5l1.0 1.8M293.3 354.9l1.0 2.3M312.1 392.4l3.0 3.9M313.7 409.8l3.2 2.7M314.3 383.4l2.7 1.9M311.4 410.5l2.8 3.3M316.6 385.2l2.7 2.3M316.0 392.9l3.6 3.8M295.6 354.7l1.1 2.4M317.7 425.6l1.8 1.8M316.7 395.6l2.8 1.9M313.3 359.7l3.8 3.8M300.5 375.8l3.7 3.3M318.8 353.0l1.3 2.4M316.3 399.4l4.1 2.9M308.6 366.3l1.4 1.7M302.2 354.3l1.5 2.3M308.5 356.3l3.6 3.4M296.2 378.0l2.4 1.6M319.6 407.5l2.8 1.4M278.6 375.3l2.2 3.3M305.3 366.1l1.7 3.1M313.0 356.9l1.4 2.6M317.2 350.6l2.5 3.7M313.0 356.9l2.9 4.6M314.6 365.8l1.3 3.1M293.3 354.5l1.7 1.6M298.5 413.8l2.5 2.6M281.7 366.8l2.3 3.6M314.3 404.3l1.7 2.4M317.2 370.0l2.2 4.7M315.5 375.0l3.0 3.8M313.0 366.1l3.6 4.0M310.5 371.3l3.0 2.9M316.0 354.6l1.3 3.2M296.0 357.2l3.4 3.5M306.7 357.2l1.9 2.4M292.6 364.6l2.1 2.8M284.5 364.0l2.3 2.6M313.5 364.5l1.0 2.4M290.0 357.5l1.6 2.2M317.0 362.2l2.5 3.4M277.4 376.3l3.1 3.9M293.8 392.9l2.7 1.9M318.6 389.1l1.7 1.6M311.3 349.8l1.3 2.1M267.9 352.2l1.5 2.0M287.2 352.1l1.5 1.5M306.7 361.2l4.0 3.6M315.0 349.1l2.1 2.2M277.7 363.4l2.1 2.3M298.7 367.3l1.5 1.4M312.7 369.3l2.7 3.9M318.7 407.2l1.9 2.0M302.4 364.0l1.0 1.9M318.9 364.4l1.7 2.3M285.8 350.7l2.0 3.0M294.6 354.9l1.3 3.0M285.8 377.6l2.6 3.4M319.8 354.8l1.7 3.1M317.1 381.3l3.5 2.7M279.4 365.0l2.7 2.3M312.4 400.3l3.5 2.8M301.1 397.2l3.2 3.0M306.9 377.2l3.2 2.6M313.1 398.3l3.3 3.3M289.0 391.1l1.9 1.1M315.4 366.9l1.4 3.3M296.7 357.0l3.2 3.1M308.4 400.6l2.5 1.3M290.7 370.0l2.0 2.3M278.0 349.3l1.4 2.8M310.1 372.4l1.3 1.8M305.6 367.8l2.1 4.3M313.0 421.9l2.6 2.6M279.1 357.5l1.7 1.5M301.5 355.8l1.5 2.5M297.3 360.8l1.8 3.9M309.3 373.1l3.0 4.6M318.9 411.5l2.5 2.5M299.7 389.3l2.2 3.1M315.2 409.0l1.7 2.2M299.0 401.0l1.9 2.1M299.2 356.6l3.6 3.8M268.7 352.5l2.3 4.0M309.1 407.6l1.9 1.5M294.6 376.5l3.3 4.4M308.0 361.8l2.1 4.6M298.6 352.3l2.0 3.4M296.3 363.7l1.7 3.9M296.4 354.0l1.6 2.4M309.9 389.3l2.6 4.3M304.7 389.1l2.7 3.2M312.7 357.3l2.3 3.2M319.0 360.6l2.1 3.6M318.3 366.7l3.5 3.1M289.0 363.8l3.9 3.7M283.1 371.7l1.8 2.1M315.1 398.1l2.0 2.3M309.4 368.2l1.3 1.9M308.9 410.5l2.7 1.6M307.6 391.5l2.7 3.9M315.5 393.0l2.9 3.3M290.7 381.6l1.5 2.2M292.9 377.5l1.7 3.2M281.9 358.3l2.4 2.6M319.1 400.0l4.1 3.6" stroke="#4c4c4c" stroke-width="0.45" fill="none" opacity="0.85" stroke-linecap="round"/>
<path d="M317.0 385.4l3.3 3.7M269.1 350.1l1.9 3.9M319.5 397.3l3.0 3.9M300.8 365.8l2.6 2.2M301.5 348.8l3.0 3.1M301.6 396.6l2.1 2.1M291.4 349.8l1.6 1.9M307.7 390.4l1.8 1.5M307.1 381.6l3.9 3.6M301.9 403.1l2.4 3.2M270.2 361.4l1.3 2.4M299.7 418.9l2.8 2.2M306.6 387.0l3.7 3.5M304.8 358.7l2.4 2.9M309.3 387.2l1.9 2.1M282.3 369.4l1.7 2.5M297.4 355.5l1.2 2.3M319.5 399.5l1.5 2.0M283.7 375.9l1.5 2.3M297.9 359.9l2.0 2.0M304.4 361.5l2.8 4.4M295.1 355.7l1.7 2.7M306.2 397.6l2.5 2.6M305.0 396.6l2.4 3.2M308.6 401.5l3.4 3.6M304.8 362.7l2.3 4.1M296.8 389.6l3.3 4.1M295.2 392.2l2.0 2.2M308.9 382.0l3.7 3.6M292.3 351.5l2.3 4.5M307.3 357.8l1.2 1.7M299.7 362.3l1.9 3.8M318.4 422.7l2.4 2.4M309.5 363.4l2.1 1.8M310.6 403.5l3.2 4.3M316.3 352.5l1.7 2.2M315.8 369.0l1.7 2.0M285.4 351.4l2.2 4.6M299.2 371.1l3.5 3.9M314.9 420.2l2.4 2.4M288.2 351.1l3.5 4.1M309.1 418.9l2.0 1.5M296.0 392.2l1.8 2.1M286.4 349.1l3.4 4.0M293.0 359.5l2.1 3.2M289.9 366.0l3.6 3.4M310.9 387.4l3.3 2.4M310.0 395.2l2.4 3.6M305.1 404.3l3.5 2.2M298.5 403.7l2.8 2.9M311.7 404.4l2.3 1.9M287.4 358.8l1.4 1.7M289.4 384.4l2.1 1.4M293.4 349.6l1.2 3.4M305.5 395.6l3.6 2.4M319.1 351.7l1.5 3.3M290.4 372.5l3.1 2.9M305.6 358.5l2.3 3.4M298.7 379.9l1.7 1.1M304.7 384.2l2.9 3.9M292.7 352.8l1.4 2.0M306.8 367.8l1.6 2.0M315.4 391.4l1.5 1.5M296.5 367.8l4.2 3.4M290.4 366.0l1.4 3.0M318.2 373.0l3.3 3.6M292.6 377.0l2.9 2.0M318.3 391.2l2.7 2.6M318.4 407.4l1.9 1.6M296.8 360.0l3.5 3.9M297.5 385.6l2.5 2.2M282.1 371.5l3.3 3.2M300.1 396.2l3.2 3.3M297.8 375.4l2.3 3.3M305.2 372.0l1.0 2.1M305.6 397.5l2.5 2.3M288.0 395.3l1.6 1.6M317.2 425.4l4.2 2.3M292.4 361.9l1.8 2.8M318.6 411.3l1.9 2.3M271.3 352.1l2.1 2.9M309.6 397.1l1.3 1.9M312.2 395.0l2.6 2.5M312.2 383.1l2.9 3.3M294.9 352.7l2.2 4.0M300.4 379.3l3.9 2.7M300.7 353.2l1.4 2.6M304.8 372.0l2.9 2.7M319.3 365.4l2.3 3.1M300.6 353.2l2.5 3.2M286.4 351.3l2.5 3.5M316.7 394.7l3.5 2.9M296.1 373.9l3.0 2.3M304.8 395.2l1.6 1.3M295.2 396.6l2.9 3.8M269.3 359.1l1.7 3.8M295.9 366.1l2.1 4.2M305.1 360.7l2.6 4.8M312.8 416.1l4.1 1.8M280.1 349.0l2.2 3.2M279.8 358.2l1.6 2.7M302.4 387.5l2.7 4.1M300.3 399.6l3.0 2.3M316.2 405.3l1.5 1.8M286.7 369.4l1.5 1.8M313.4 368.3l3.0 4.0M300.8 370.8l2.8 4.3M276.0 350.7l2.0 2.5M315.0 403.7l1.7 1.4M304.8 371.0l2.4 3.6M293.8 372.9l1.8 2.7M292.2 358.8l2.7 3.6M290.4 349.9l1.3 3.3M301.8 372.1l1.4 2.5M315.1 367.7l1.9 4.1M293.3 369.3l3.2 4.3M298.0 380.5l1.6 1.3M307.2 350.6l1.7 2.1M301.4 355.6l2.3 2.4M276.7 371.4l2.2 1.7M297.5 386.0l2.9 3.6M311.4 376.2l2.1 3.3M281.3 351.5l1.4 1.6M314.5 370.3l3.7 3.0M300.2 349.1l0.9 2.4M314.6 416.7l2.2 2.2M314.0 360.6l1.2 2.3M299.6 366.0l1.6 1.7M308.0 400.9l3.1 2.1M291.5 351.6l2.1 2.6M318.7 366.7l2.4 2.3M315.5 376.2l1.6 2.5M312.8 406.4l1.2 1.6M313.0 414.3l2.7 1.9M304.6 352.8l3.1 3.8M307.3 352.0l1.5 4.5M299.0 395.2l2.0 1.8M317.8 352.9l1.4 2.7M295.5 400.5l4.2 2.3M318.4 381.8l2.2 3.0M302.9 398.7l3.2 4.3M319.6 358.4l2.5 3.4M290.5 371.6l3.7 3.6M317.5 412.1l3.3 4.0M306.1 376.9l2.0 2.9M306.7 365.9l1.4 2.0M300.8 364.6l1.2 2.7M304.6 360.5l4.1 3.6M313.8 363.9l2.0 1.9M294.8 353.8l1.8 2.9M287.4 376.5l1.6 2.1M310.4 378.3l3.1 2.7M288.1 397.9l2.2 1.4M294.5 386.5l3.7 3.5M305.3 366.0l2.2 3.3M310.8 390.0l3.7 3.4M294.7 351.0l2.3 4.9M308.1 363.8l1.3 2.5M309.5 367.5l2.7 3.0M304.8 351.9l2.2 2.5M291.8 355.3l1.8 4.6M290.0 379.0l2.4 2.8M310.0 351.6l1.4 4.3M311.8 356.8l1.3 3.2M292.6 394.9l3.5 3.7M289.1 352.8l1.4 2.3M309.7 396.4l4.5 2.6M302.7 350.7l1.2 2.1M284.0 354.2l2.1 2.1M307.6 353.9l3.2 4.5M296.3 396.8l3.6 2.1M307.4 360.6l1.6 3.9M289.8 357.5l2.7 2.4M287.9 368.0l2.4 2.2M319.2 392.3l1.5 2.0M299.7 394.7l3.4 3.7M275.9 368.1l3.1 3.6M290.4 372.7l1.2 1.9M316.5 370.8l1.5 2.7M314.4 387.2l3.0 4.2M303.2 349.6l0.8 2.2M313.4 400.6l1.4 2.0M312.7 391.0l2.4 3.6M307.4 386.0l3.0 2.7M319.4 398.8l1.5 2.0M317.9 420.2l2.9 1.8M317.6 349.6l2.5 3.5M271.9 370.7l1.6 1.7M304.8 383.6l1.6 2.0M291.7 367.8l2.5 3.6M292.0 395.2l1.3 1.7M310.4 363.6l1.7 1.9M309.0 371.1l2.5 2.9M302.3 355.0l3.1 2.9M292.0 373.9l2.7 2.6M309.2 400.3l2.7 1.5M315.2 355.5l1.7 2.3M316.5 413.1l2.4 1.1M311.3 371.2l1.8 1.4M296.4 373.0l2.6 4.4M310.1 362.8l2.0 1.9M304.0 351.0l2.0 3.0M318.2 372.8l3.4 3.6M287.4 365.6l3.3 3.7M309.9 370.5l2.8 3.5M317.8 371.4l2.0 2.6M312.4 373.9l3.1 3.9M280.8 369.2l2.1 3.3M314.5 381.5l3.3 3.8M317.7 381.9l1.3 1.6M302.4 378.3l1.7 3.1" stroke="#686868" stroke-width="0.45" fill="none" opacity="0.85" stroke-linecap="round"/>
<path d="M312.8 400.2l4.6 2.8M306.6 400.9l2.3 1.9M290.0 379.2l1.2 1.7M319.2 371.0l1.8 1.8M300.6 353.6l1.4 3.3M304.1 356.0l2.0 4.7M316.4 414.8l3.5 2.9M292.3 360.2l2.8 2.9M300.4 361.7l2.7 4.3M293.4 378.6l2.2 2.2M302.9 375.8l2.3 1.8M301.8 376.9l3.2 3.4M303.7 363.5l2.3 4.1M302.0 379.5l2.3 3.6M313.7 396.4l4.2 2.7M289.6 354.3l1.4 2.1M307.6 422.0l3.9 3.1M318.2 354.9l1.8 3.2M273.4 360.5l2.2 3.9M318.4 402.5l4.5 3.1M318.9 395.6l3.2 3.2M293.6 374.9l2.2 2.6M311.6 359.4l2.8 4.4M302.1 399.9l2.2 2.1M314.7 352.2l0.9 2.6M288.4 356.5l1.5 3.2M318.1 398.5l3.6 3.0M304.8 361.0l2.3 2.2M317.0 355.0l1.7 4.6M301.5 406.5l3.7 3.1M311.2 415.7l4.5 2.8M294.2 388.2l2.5 3.4M284.5 350.9l3.0 3.0M297.6 388.9l4.2 3.6M311.3 363.6l1.6 3.9M300.2 378.1l1.7 2.2M272.3 371.1l3.0 2.3M281.9 378.0l1.8 2.9M288.1 364.5l2.7 3.9M301.6 384.1l2.8 4.1M297.4 366.2l1.2 1.8M280.0 366.9l2.4 4.9M299.8 365.2l3.2 2.9M303.7 385.5l2.3 2.7M307.9 386.2l1.8 1.7M273.7 349.6l2.4 4.8M301.0 384.6l2.8 1.9M317.2 392.4l2.5 1.5M294.4 373.9l2.8 4.7M298.5 403.6l3.3 1.8M308.6 359.4l1.7 1.8M287.5 349.7l1.6 3.1M294.6 408.2l3.5 3.4M311.2 393.6l2.5 2.8M319.2 424.8l2.5 1.7M302.4 386.4l1.7 2.4M313.5 388.5l3.5 3.3M310.4 373.8l1.9 1.9M314.2 360.0l2.4 2.2M303.4 383.7l3.7 4.0M304.9 363.5l2.9 2.6M312.0 398.6l1.8 1.4M275.3 354.5l2.4 4.0M298.6 379.9l3.0 4.6M290.2 387.0l2.5 2.3M288.1 375.0l2.6 2.7M318.4 403.7l3.4 2.8M319.7 387.2l2.1 2.0M307.6 358.2l3.1 2.8M319.1 406.1l2.7 3.1M319.0 409.5l3.2 2.2M316.7 394.5l3.9 3.0M317.3 373.1l2.4 2.0M312.1 378.8l1.4 1.5M309.6 410.5l3.9 1.9M297.9 380.7l3.4 3.5M316.4 402.4l3.1 3.1M318.2 400.4l2.6 2.8M313.2 374.7l2.9 2.8M300.4 376.7l4.1 3.0M313.0 404.0l3.5 3.2M319.2 348.9l1.9 3.6M300.5 415.5l3.5 3.8" stroke="#8a8a8a" stroke-width="0.45" fill="none" opacity="0.85" stroke-linecap="round"/>
<path d="M314.0 383.6l2.0 2.4M316.0 424.8l3.7 1.5M278.3 355.4l3.8 3.5M307.0 358.3l2.0 3.6M300.8 414.0l2.8 2.0M287.0 366.6l2.1 3.6M293.2 359.4l2.8 4.0M314.4 381.7l1.7 2.5M311.7 391.3l2.3 1.7M308.5 387.2l1.8 2.7M316.4 398.6l1.6 1.5M316.6 392.0l2.4 3.4M316.9 363.9l2.0 2.4M310.4 387.9l3.8 3.3M299.4 408.2l1.5 1.3M317.0 375.6l3.5 3.2M311.3 362.9l1.6 3.8M274.8 353.5l1.8 3.4" stroke="#aaaaaa" stroke-width="0.45" fill="none" opacity="0.85" stroke-linecap="round"/>
<path d="M303.1 387.7l2.5 2.3M270.9 364.4l4.6 3.4M242.8 405.2l2.7 2.5M318.0 380.0l1.3 2.3M296.6 395.5l2.4 2.0M309.0 375.9l2.6 2.9M243.3 400.2l4.3 2.3M245.3 415.4l2.0 1.9M316.3 391.7l2.2 2.6M315.9 415.1l3.2 2.6M314.1 371.4l2.1 3.5M287.4 406.6l2.5 1.7M277.9 365.7l1.6 2.1M294.3 375.8l2.0 3.6M305.4 414.7l3.8 3.3M280.1 392.6l2.4 2.4M244.7 380.1l3.0 2.2M240.0 370.6l3.3 3.2M250.5 403.4l3.1 2.6M303.0 406.3l5.0 3.3M265.5 405.1l4.0 2.2M271.0 380.8l2.3 3.0M307.5 403.3l2.9 2.9M280.6 422.5l2.0 1.7M279.7 416.9l4.3 1.9M298.1 383.8l4.4 3.5M269.6 407.5l4.6 2.1M269.5 367.8l1.9 2.7M261.8 395.0l3.7 2.9M266.2 389.4l3.7 2.5M300.8 409.1l2.5 3.0M315.6 419.9l4.2 1.8M239.6 411.2l4.7 3.1M245.3 422.4l3.1 2.2M316.2 379.1l2.1 1.6M282.5 385.5l2.1 3.0M311.0 411.1l3.9 2.9M258.6 385.8l2.1 2.9M248.3 406.3l3.1 1.9M299.2 393.0l3.6 2.7M304.6 364.7l3.2 3.7M297.6 401.3l2.9 3.5M293.7 421.5l3.1 1.2M305.9 418.3l2.9 2.9M264.5 409.5l3.2 3.1M239.8 414.7l3.6 1.1M315.6 361.1l1.9 4.9M247.3 389.7l2.7 2.3M250.6 369.7l2.7 4.6M316.2 385.6l2.3 2.6M241.8 401.5l4.6 3.4M318.8 386.5l2.1 2.9M247.6 370.8l3.7 4.7M280.4 416.3l2.2 1.5M252.7 361.8l2.5 2.3M264.6 414.4l5.5 1.8M307.5 417.8l5.1 3.0M317.8 406.9l2.9 2.0M305.0 418.6l4.5 2.8M312.5 381.9l3.4 2.7M293.0 413.5l4.1 4.0M301.5 413.4l3.3 2.7M244.6 421.2l3.9 2.2M270.3 416.0l2.7 2.2M255.0 422.3l2.4 1.1M312.5 368.3l3.3 3.7M279.3 369.7l1.7 3.0M277.3 414.7l4.5 2.5M241.0 403.0l4.0 1.9M284.2 416.4l2.1 2.0M288.1 376.8l3.4 2.6M284.8 406.3l2.8 1.7M264.1 377.2l3.2 2.1M264.2 384.1l4.3 3.3M267.8 375.4l3.3 2.6M300.8 376.0l2.3 2.0M276.0 402.6l3.0 3.6M256.7 361.9l1.8 3.1M251.2 377.5l2.5 2.8M312.0 391.3l3.4 3.0M283.4 422.2l2.7 1.9M272.6 414.2l2.9 2.9M241.7 406.3l2.9 1.8M269.0 386.4l4.3 3.2M269.7 366.1l2.7 4.6M256.4 367.7l4.6 3.5M257.3 369.2l1.9 1.7M275.0 374.0l3.6 4.1M253.6 368.2l1.9 2.1M273.2 418.0l2.5 1.0M250.5 399.2l3.2 3.3M265.3 384.8l2.6 3.5M261.5 400.0l2.4 2.4M313.7 406.4l3.4 2.5M311.8 375.2l2.0 1.6M312.2 420.9l4.5 3.3M312.3 415.6l5.0 3.0M282.3 409.9l3.9 1.5M301.6 398.6l4.5 2.8M260.4 400.9l2.8 2.4M309.6 371.0l4.3 3.8M307.9 389.4l4.6 3.7M289.3 396.5l3.4 3.6M241.9 363.2l3.2 4.7M298.9 382.8l3.1 2.7M296.2 385.5l2.1 3.1M240.7 401.4l2.7 1.7M271.4 387.3l3.1 3.4M290.0 369.2l3.6 3.2M243.3 395.3l2.9 1.6M252.0 374.8l4.5 3.1M272.5 381.9l2.7 2.5M276.5 368.5l2.9 4.1M301.8 421.7l3.7 3.3M297.0 404.2l3.5 3.1M312.5 403.9l3.8 3.4M242.4 361.6l3.6 3.5M287.5 392.5l5.2 2.8M299.3 380.9l3.6 3.4M279.2 382.2l2.4 3.3M258.7 425.4l3.7 1.6M247.4 384.2l3.7 3.6M292.9 386.7l2.8 1.8M257.6 381.4l2.5 2.2M297.6 399.8l4.2 2.8M268.5 361.5l2.0 2.1M289.5 392.6l3.0 2.3M290.7 390.4l2.8 1.8M242.7 403.7l2.8 2.5M275.5 405.5l2.4 2.7M310.7 381.8l2.2 3.3M259.3 406.5l2.5 1.2M291.8 389.2l1.8 2.6M304.7 373.4l2.1 2.4" stroke="#0c0c0c" stroke-width="0.5" fill="none" opacity="0.85" stroke-linecap="round"/>
<path d="M302.1 397.8l2.9 2.7M292.4 399.1l3.5 2.3M285.5 406.2l3.1 1.9M283.5 378.3l3.1 2.2M278.4 390.2l1.7 2.0M241.9 394.2l5.0 2.5M290.7 390.4l2.1 2.0M296.6 403.7l2.7 3.1M304.8 383.8l2.9 3.8M277.9 399.9l2.2 2.0M314.2 360.8l1.9 3.7M261.4 419.7l3.1 2.8M268.9 410.6l4.4 1.9M265.1 400.5l3.3 3.7M242.1 424.3l4.0 1.5M261.5 418.9l4.0 1.5M265.5 386.6l2.0 2.8M316.1 368.9l3.5 4.0M276.2 392.4l3.0 3.5M247.5 399.0l2.4 1.2M255.7 378.1l2.5 2.2M294.5 409.2l2.7 1.7M316.9 405.1l2.1 2.6M258.1 406.3l3.1 2.5M263.8 405.6l2.5 2.8M299.9 370.3l1.7 1.8M316.8 414.7l2.4 2.3M312.2 418.2l3.1 1.8M279.1 424.8l2.7 1.2M273.3 402.4l2.3 2.4M298.2 406.1l4.5 4.0M271.2 409.3l5.4 2.5M259.9 417.6l5.3 2.2M296.4 362.1l3.4 3.6M281.0 423.1l4.4 4.1M291.3 379.7l1.9 1.8M263.6 405.1l3.2 3.6M317.5 423.2l4.8 2.7M272.6 421.6l4.7 3.3M288.9 413.1l3.7 1.7M281.3 380.6l2.6 2.7M305.8 407.9l1.8 2.2M263.8 373.8l3.1 4.2M303.4 422.3l4.4 3.6M266.6 403.9l4.0 2.7M265.9 363.0l2.3 3.4M314.5 381.0l1.3 2.3M281.6 417.4l4.8 3.4M294.4 400.9l3.1 3.4M263.3 419.6l3.2 2.0M275.6 402.2l2.9 2.3M313.3 415.7l3.9 4.1M281.7 382.0l2.1 1.4M295.7 364.8l2.6 4.1M277.8 421.2l4.6 1.4M243.6 386.9l3.1 2.1M277.0 379.9l4.2 2.9M255.5 401.9l3.8 3.8M304.4 363.6l3.7 4.5M288.0 395.4l2.6 3.5M287.5 381.3l3.0 2.3M308.9 411.4l4.2 3.1M307.0 407.3l4.1 2.3M300.3 410.9l3.4 1.8M264.4 404.5l3.1 1.5M239.3 390.0l4.6 2.7M277.4 409.0l4.9 3.4M258.4 380.9l4.1 2.9M300.7 407.4l2.1 2.0M283.8 413.0l2.8 2.0M281.2 409.7l4.0 2.6M264.1 387.6l3.7 2.9M266.6 419.8l3.2 2.8M315.5 412.8l4.0 2.9M316.2 383.7l2.6 3.5M260.5 419.4l3.3 1.2M301.6 422.2l3.3 1.7M269.5 422.7l4.4 2.5M302.3 419.3l2.9 2.1M257.7 395.9l3.0 1.4M306.1 369.9l3.3 3.8M293.9 420.5l4.7 2.6M287.8 391.0l4.3 3.1M256.0 383.4l4.5 3.5M258.7 424.4l3.2 2.2M297.6 412.7l4.3 2.0M255.2 408.9l5.1 2.7M247.8 413.8l4.5 2.5M275.6 416.0l4.2 2.9M316.8 391.1l4.3 2.8M250.5 399.0l2.6 2.0M308.7 414.9l3.5 3.7M253.8 398.7l3.8 3.4M314.8 376.1l2.5 2.2M267.0 415.6l4.1 3.6M239.8 393.7l3.4 3.3M277.7 401.1l3.4 1.8M303.7 377.6l3.6 3.1M256.8 379.4l3.3 2.3M247.2 418.1l4.5 1.8M289.5 384.0l3.1 2.8M270.0 417.5l3.2 2.9M279.6 364.2l3.4 4.9M251.2 375.1l3.5 3.8M249.4 393.9l2.1 1.8M298.7 396.0l3.0 1.8M262.8 424.4l3.7 2.0M245.4 383.0l3.7 2.6M293.3 413.8l3.9 3.8M309.2 379.4l3.0 2.7M248.7 373.4l2.5 1.7M268.7 372.3l2.1 2.9M296.9 370.8l1.8 2.5M271.5 415.6l2.8 1.5M302.1 421.8l4.8 2.1M309.5 421.4l2.6 2.3M286.5 375.3l2.3 2.7M240.5 385.1l3.4 2.8M240.9 405.4l3.4 1.4M297.9 379.4l1.8 2.1M319.3 378.4l1.9 1.9M284.2 409.4l1.9 1.8M308.9 396.7l3.7 3.2M249.3 370.5l2.6 2.7M257.1 371.2l2.3 2.9M315.4 402.7l3.2 2.7M259.7 379.9l2.6 1.6M242.0 420.4l4.4 2.0M244.9 412.3l3.9 1.4M267.8 416.5l3.4 2.8M317.2 400.7l2.6 2.9M256.0 362.7l2.3 3.2M309.4 377.6l2.9 4.3M293.3 418.5l2.1 2.0M263.3 417.9l3.6 3.0M271.6 371.4l2.3 3.9M259.9 386.8l4.6 3.6M286.5 361.4l1.1 2.4M271.1 391.3l3.1 1.6M269.5 422.8l3.8 1.6M298.5 389.3l1.9 2.8M244.0 393.1l3.0 2.8M309.6 402.3l2.2 2.1M304.4 371.4l2.5 2.4M279.5 410.2l4.8 2.4M254.5 399.4l4.0 3.7M243.8 414.4l4.6 3.5M250.6 374.8l2.8 2.5M319.8 416.0l1.9 2.2M317.9 385.7l3.6 4.2M248.9 412.2l3.5 1.8M255.4 399.4l4.4 2.2M312.1 396.4l4.5 3.8M307.1 388.4l3.2 3.9M262.2 406.2l4.2 3.6" stroke="#222222" stroke-width="0.5" fill="none" opacity="0.85" stroke-linecap="round"/>
<path d="M319.6 369.2l1.2 2.4M240.5 387.3l3.5 2.1M265.1 411.0l3.0 2.2M284.4 381.4l2.7 3.6M254.6 419.1l4.4 3.9M263.8 406.6l4.0 2.4M244.7 397.0l3.6 2.5M254.7 383.1l4.4 4.1M312.1 387.3l1.5 2.3M256.3 387.5l2.2 2.0M307.0 425.5l3.3 1.8M256.8 373.2l3.5 4.2M291.6 374.8l3.2 4.7M287.0 363.3l3.7 4.3M262.2 363.3l4.0 3.2M313.2 396.8l4.1 2.8M277.2 403.0l4.6 2.4M238.9 380.0l4.5 2.7M261.5 420.2l4.6 2.4M240.0 361.7l1.4 2.3M254.0 377.6l1.6 2.1M279.9 406.5l1.7 1.9M280.8 363.9l2.3 3.3M239.7 378.0l3.6 3.2M262.0 399.7l4.7 2.1M283.0 398.8l2.5 1.4M271.5 382.2l3.1 4.1M312.9 403.5l2.7 2.0M243.6 375.9l4.7 2.6M304.0 409.0l3.2 1.5M260.8 403.4l3.3 3.2M267.9 378.0l1.4 2.1M317.9 413.1l3.7 3.8M293.5 394.9l2.3 3.1M291.5 402.6l2.3 2.3M278.7 361.3l4.0 3.7M280.1 409.3l2.4 1.9M304.4 368.6l4.1 4.0M265.2 415.0l4.6 3.7M292.3 390.4l2.3 1.7M267.7 409.5l3.9 2.1M275.3 386.7l1.9 2.2M318.4 369.2l2.9 5.1M294.4 420.4l2.1 2.0M246.9 377.5l1.6 1.9M254.4 368.8l2.0 3.2M289.0 423.9l3.3 1.0M311.1 370.9l3.3 2.9M263.9 398.6l3.2 1.6M252.5 412.5l4.9 2.0M253.2 410.2l4.4 3.0M300.9 380.2l2.9 4.4M299.5 398.1l2.2 1.8M257.4 409.9l2.9 2.9M280.1 389.9l3.2 2.8M278.7 361.4l1.9 3.2M319.0 417.8l5.0 2.4M258.7 404.0l2.7 1.7M251.2 397.4l2.9 3.4M265.4 380.7l2.8 2.2M304.2 388.8l4.2 3.8M272.9 399.5l2.6 2.2M310.9 424.5l2.5 1.3M295.9 366.0l1.7 2.2M238.9 419.7l4.4 3.2M299.8 392.4l2.4 1.8M289.6 420.6l2.7 1.0M313.9 420.0l2.3 1.6M315.7 415.2l2.4 2.9M313.8 407.4l3.6 2.4M280.8 404.5l3.8 2.0M300.6 409.1l3.0 2.7M279.3 383.0l4.3 3.4M285.2 420.2l4.3 2.5M301.1 392.4l3.2 2.1M254.4 410.3l2.2 2.0M251.6 411.6l4.7 3.4M267.5 369.1l2.6 4.4M259.2 378.4l2.9 3.0M302.1 375.7l3.5 3.6M307.9 397.6l2.8 1.9M257.7 375.4l2.7 2.9M298.7 369.1l3.2 4.5M315.2 365.0l1.9 3.1M246.1 386.0l4.8 2.6M264.1 389.7l1.8 1.7M289.5 401.4l4.5 2.6M249.6 408.2l2.8 1.5M269.9 422.9l3.2 1.3M307.2 423.6l3.0 1.1M292.7 406.5l2.8 2.3M251.5 374.2l3.6 4.7M245.6 407.9l3.6 1.5M250.0 411.3l4.9 3.1M298.9 388.8l1.6 2.5M303.6 381.6l2.4 2.6M265.9 392.2l3.7 3.0" stroke="#303030" stroke-width="0.5" fill="none" opacity="0.85" stroke-linecap="round"/>
<path d="M269.1 377.0l4.5 3.1M303.2 399.4l2.8 1.8M283.0 371.2l2.7 2.9M294.7 381.1l2.7 4.1M240.6 380.5l3.7 4.6M270.2 364.2l3.8 3.3M289.1 418.7l2.2 1.8M271.6 419.7l4.1 3.7M310.4 415.2l4.3 3.3M248.7 402.6l2.4 1.0M310.9 407.0l4.6 2.9M283.8 375.7l1.9 1.7M294.0 368.2l2.6 3.4M301.1 387.3l2.6 3.2M298.8 369.6l2.1 2.0M292.4 382.7l2.1 2.4M282.2 397.4l4.8 3.5M291.9 413.5l3.0 1.2M241.8 413.5l5.1 1.8M240.7 379.9l3.2 1.9M290.8 369.0l1.4 2.4M305.7 401.4l4.1 2.2M303.5 408.5l2.4 2.2M289.6 363.8l1.1 2.3M253.4 360.9l2.0 2.3M288.1 389.2l2.5 2.0M291.7 365.0l3.3 3.3M307.8 368.3l2.8 4.2M317.6 387.1l4.1 2.7M274.4 403.9l3.9 3.0M291.9 423.8l2.8 1.4" stroke="#424242" stroke-width="0.5" fill="none" opacity="0.85" stroke-linecap="round"/>
<path d="M287.5 390.5l3.5 4.8M272.4 387.8l1.9 2.1M285.1 416.5l4.5 3.9" stroke="#5a5a5a" stroke-width="0.5" fill="none" opacity="0.85" stroke-linecap="round"/>
<path d="M297.8 387.7l0.4 0.3M279.7 390.4l0.4 0.3M294.5 402.9l0.4 0.3M295.4 401.5l0.4 0.3M270.9 399.5l0.4 0.3M277.5 386.9l0.4 0.3M291.8 396.5l0.4 0.3M278.3 391.3l0.4 0.3M294.2 393.3l0.4 0.3M275.4 403.9l0.4 0.3M296.0 396.3l0.4 0.3M286.1 385.9l0.4 0.3M273.3 396.8l0.4 0.3M299.5 388.2l0.4 0.3M272.8 390.7l0.4 0.3M280.7 404.4l0.4 0.3M272.5 387.9l0.4 0.3M284.1 388.6l0.4 0.3M271.2 399.0l0.4 0.3M280.9 386.4l0.4 0.3M279.3 398.9l0.4 0.3M280.3 404.1l0.4 0.3M270.5 399.1l0.4 0.3M299.8 392.6l0.4 0.3M292.7 398.2l0.4 0.3M279.1 404.7l0.4 0.3M291.4 402.4l0.4 0.3M287.2 386.6l0.4 0.3M287.4 387.6l0.4 0.3M285.7 402.7l0.4 0.3M293.2 402.3l0.4 0.3M271.9 390.2l0.4 0.3M273.0 394.8l0.4 0.3M287.8 389.6l0.4 0.3M284.8 393.1l0.4 0.3M289.8 394.6l0.4 0.3M276.4 387.6l0.4 0.3M275.5 399.8l0.4 0.3M288.2 391.0l0.4 0.3M283.9 395.6l0.4 0.3" stroke="#7a7a7a" stroke-width="0.6" fill="none" stroke-linecap="round" opacity="0.8"/>
</g>
<ellipse cx="278.4" cy="380.8" rx="8.5" ry="5.6" fill="#0b0b0b" filter="url(#blur1)" transform="rotate(14 278.4 380.8)"/>
<g filter="url(#blur1)">
<path d="M236,346 L263.5,346 C259,355 252,362 247,369 L243,376 L236,379 Z" fill="#c9a57a"/>
<path d="M236,346 L254,346 C251,354 246,361 236,366 Z" fill="#f0d8b6"/>
<path d="M254,347 L264.5,347 L254,362 L248,364 Z" fill="#a88456"/>
<path d="M236,365 L245,367 L243.5,375 L236,378 Z" fill="#e6d2b8"/>
<polygon points="316,346 322,346 322,354" fill="#b4b4b4"/>
</g>
<g filter="url(#blur15)">
<ellipse cx="312.5" cy="416.5" rx="9.5" ry="9.0" fill="#44201a"/>
<ellipse cx="310.6" cy="412.0" rx="5.5" ry="4.6" fill="#7a5048" opacity="0.8"/>
<ellipse cx="317" cy="423.5" rx="5" ry="4" fill="#7a2218" opacity="0.9"/>
</g>
<path d="M306.9 418.8L302.2 418.6M308.4 420.9L305.5 422.1M305.8 416.2L302.9 415.2M308.2 417.6L305.2 416.7M314.6 414.7L315.8 411.4M306.9 421.7L304.3 422.9M310.1 414.0L308.0 410.4M312.0 412.2L311.4 407.6M309.2 418.2L304.9 417.2M310.9 415.5L309.4 413.1M309.9 415.8L307.6 413.3M312.9 413.7L312.8 411.0M308.9 413.1L306.9 410.1M311.4 415.9L310.0 413.3M307.8 417.4L305.3 416.6M309.2 415.0L307.4 413.1M307.9 416.7L304.7 415.2M313.1 411.4L313.1 407.8M306.1 418.4L302.8 418.2M312.3 413.6L311.9 410.3M306.1 415.5L303.7 414.3M310.1 417.1L307.4 415.3M305.9 420.1L301.0 420.8M312.1 413.5L311.2 408.7M309.1 416.9L305.1 414.8M310.4 416.7L306.7 413.4M314.3 415.8L316.0 411.8M315.6 412.9L317.5 408.4M313.6 413.5L314.1 409.5M307.3 416.6L303.6 415.0M312.5 415.8L312.0 412.6M309.0 419.2L304.4 419.3" stroke="#b09090" stroke-width="0.45" fill="none" opacity="0.38" filter="url(#blur0)"/>
<path d="M309.9 417.2L307.6 415.8M307.4 416.8L304.5 415.7M307.7 421.2L303.4 423.0M310.0 418.6L307.3 418.3M308.0 414.9L304.3 411.9M315.8 412.8L317.6 409.0M309.7 416.3L307.6 414.7M309.4 414.7L306.6 411.5M314.3 415.3L315.8 410.8M308.3 417.2L305.6 416.2M305.4 419.3L301.0 419.4M306.9 419.1L303.7 419.1M311.7 415.6L309.9 411.0M310.9 414.0L309.9 411.4" stroke="#241010" stroke-width="0.5" fill="none" opacity="0.45" filter="url(#blur0)"/>
<g stroke="#8e8e8e" stroke-width="0.75" fill="none" opacity="0.8" filter="url(#blur0)">
<path d="M241,397 Q260,403 280,415.4" stroke="#5c5c5c"/>
<path d="M262,413.6 Q274,414.6 286,416.6"/>
<path d="M240,407 Q258,412 276,421" stroke="#363636"/>
</g>
<g filter="url(#blur0)">
<line x1="237" y1="362.0" x2="267.9" y2="380.2" stroke="#e6c222" stroke-width="2.5"/>
<line x1="240" y1="363.0" x2="262" y2="376.0" stroke="#f6e060" stroke-width="0.8"/>
<line x1="263.5" y1="377.6" x2="268.6" y2="380.6" stroke="#dc8c34" stroke-width="1.7"/>
</g>
<ellipse cx="278.4" cy="380.8" rx="6.1" ry="3.5" fill="#000" transform="rotate(14 278.4 380.8)"/>
<ellipse cx="282.2" cy="381.0" rx="1.3" ry="1.0" fill="#e4e4e4"/>
<ellipse cx="280.4" cy="385.0" rx="1.8" ry="0.8" fill="#a0a0a0"/>
<ellipse cx="276.0" cy="382.8" rx="1.0" ry="0.6" fill="#8a8a8a"/>
<polygon points="251.6,390.4 262.7,382.6 260.4,395.8" fill="#fff"/>
</g>
</g>
<g id="panelE">
<text x="361.50" y="236.20" font-size="18.5" text-anchor="start" font-weight="bold" fill="#000">E</text>
<line x1="406.70" y1="248.20" x2="419.10" y2="248.20" stroke="#222" stroke-width="0.9"/>
<circle cx="412.90" cy="248.20" r="3.2" fill="#fff" stroke="#111" stroke-width="0.8"/>
<text x="421.60" y="251.20" font-size="8.4" text-anchor="start" font-weight="normal" fill="#111">Vehicle</text>
<line x1="463.70" y1="248.20" x2="476.10" y2="248.20" stroke="#222" stroke-width="0.9"/>
<rect x="466.80" y="245.10" width="6.2" height="6.2" fill="#0a0a0a"/>
<text x="477.80" y="251.20" font-size="8.5" text-anchor="start" font-weight="normal" fill="#111">0.01 mg/kg</text>
<line x1="406.20" y1="261.70" x2="418.60" y2="261.70" stroke="#222" stroke-width="0.9"/>
<polygon points="412.40,258.34 409.20,264.14 415.60,264.14" fill="#0a0a0a"/>
<text x="421.20" y="264.70" font-size="8.5" text-anchor="start" font-weight="normal" fill="#111">0.1 mg/kg</text>
<line x1="463.70" y1="261.70" x2="476.10" y2="261.70" stroke="#222" stroke-width="0.9"/>
<circle cx="469.90" cy="261.70" r="3.2" fill="#0a0a0a" stroke="#111" stroke-width="0.8"/>
<text x="478.40" y="264.70" font-size="8.5" text-anchor="start" font-weight="normal" fill="#111">1 mg/kg 5-HT (i.p.)</text>
<line x1="398.80" y1="270.70" x2="398.80" y2="413.40" stroke="#333" stroke-width="1.2"/>
<line x1="398.20" y1="412.80" x2="556.30" y2="412.80" stroke="#333" stroke-width="1.2"/>
<line x1="396.00" y1="412.80" x2="398.80" y2="412.80" stroke="#333" stroke-width="1.0"/>
<text x="391.60" y="415.50" font-size="7.6" text-anchor="end" font-weight="normal" fill="#111">0</text>
<line x1="396.00" y1="372.15" x2="398.80" y2="372.15" stroke="#333" stroke-width="1.0"/>
<text x="391.60" y="374.85" font-size="7.6" text-anchor="end" font-weight="normal" fill="#111">1</text>
<line x1="396.00" y1="331.50" x2="398.80" y2="331.50" stroke="#333" stroke-width="1.0"/>
<text x="391.60" y="334.20" font-size="7.6" text-anchor="end" font-weight="normal" fill="#111">2</text>
<line x1="396.00" y1="290.85" x2="398.80" y2="290.85" stroke="#333" stroke-width="1.0"/>
<text x="391.60" y="293.55" font-size="7.6" text-anchor="end" font-weight="normal" fill="#111">3</text>
<line x1="414.40" y1="412.80" x2="414.40" y2="415.50" stroke="#444" stroke-width="0.85"/>
<text x="414.40" y="426.20" font-size="7.6" text-anchor="middle" font-weight="normal" fill="#111">0</text>
<line x1="445.97" y1="412.80" x2="445.97" y2="415.50" stroke="#444" stroke-width="0.85"/>
<text x="445.97" y="426.20" font-size="7.6" text-anchor="middle" font-weight="normal" fill="#111">5</text>
<line x1="477.55" y1="412.80" x2="477.55" y2="415.50" stroke="#444" stroke-width="0.85"/>
<text x="477.55" y="426.20" font-size="7.6" text-anchor="middle" font-weight="normal" fill="#111">10</text>
<line x1="509.12" y1="412.80" x2="509.12" y2="415.50" stroke="#444" stroke-width="0.85"/>
<text x="509.12" y="426.20" font-size="7.6" text-anchor="middle" font-weight="normal" fill="#111">15</text>
<line x1="540.70" y1="412.80" x2="540.70" y2="415.50" stroke="#444" stroke-width="0.85"/>
<text x="540.70" y="426.20" font-size="7.6" text-anchor="middle" font-weight="normal" fill="#111">20</text>
<text x="476.30" y="444.50" font-size="9.7" text-anchor="middle" font-weight="normal" fill="#111">Time after 5-HT injection (min)</text>
<text x="373.40" y="339.70" font-size="9.7" text-anchor="middle" font-weight="normal" fill="#111" transform="rotate(-90 373.40 339.70)">Tear secretion (mm/15 sec)</text>
<line x1="414.40" y1="348.00" x2="414.40" y2="358.50" stroke="#adadad" stroke-width="0.75"/>
<line x1="445.97" y1="300.50" x2="445.97" y2="321.70" stroke="#adadad" stroke-width="0.75"/>
<line x1="477.55" y1="293.40" x2="477.55" y2="309.80" stroke="#adadad" stroke-width="0.75"/>
<line x1="509.12" y1="327.60" x2="509.12" y2="347.50" stroke="#adadad" stroke-width="0.75"/>
<line x1="540.70" y1="362.00" x2="540.70" y2="372.00" stroke="#adadad" stroke-width="0.75"/>
<line x1="414.40" y1="366.00" x2="414.40" y2="374.00" stroke="#adadad" stroke-width="0.75"/>
<line x1="445.97" y1="322.90" x2="445.97" y2="352.20" stroke="#adadad" stroke-width="0.75"/>
<line x1="477.55" y1="335.80" x2="477.55" y2="359.20" stroke="#adadad" stroke-width="0.75"/>
<line x1="509.12" y1="347.50" x2="509.12" y2="372.00" stroke="#adadad" stroke-width="0.75"/>
<line x1="540.70" y1="361.00" x2="540.70" y2="371.00" stroke="#adadad" stroke-width="0.75"/>
<line x1="414.40" y1="366.00" x2="414.40" y2="374.00" stroke="#adadad" stroke-width="0.75"/>
<line x1="445.97" y1="376.50" x2="445.97" y2="384.50" stroke="#adadad" stroke-width="0.75"/>
<line x1="477.55" y1="367.50" x2="477.55" y2="378.00" stroke="#adadad" stroke-width="0.75"/>
<line x1="509.12" y1="369.00" x2="509.12" y2="384.00" stroke="#adadad" stroke-width="0.75"/>
<line x1="540.70" y1="370.00" x2="540.70" y2="378.50" stroke="#adadad" stroke-width="0.75"/>
<line x1="414.40" y1="365.00" x2="414.40" y2="380.30" stroke="#adadad" stroke-width="0.75"/>
<line x1="445.97" y1="369.00" x2="445.97" y2="378.00" stroke="#adadad" stroke-width="0.75"/>
<line x1="477.55" y1="364.50" x2="477.55" y2="376.50" stroke="#adadad" stroke-width="0.75"/>
<line x1="509.12" y1="368.00" x2="509.12" y2="384.50" stroke="#adadad" stroke-width="0.75"/>
<line x1="540.70" y1="365.50" x2="540.70" y2="375.50" stroke="#adadad" stroke-width="0.75"/>
<polyline points="414.40,358.50 445.97,311.30 477.55,301.20 509.12,337.60 540.70,367.40" fill="none" stroke="#222" stroke-width="0.9"/>
<polyline points="414.40,369.90 445.97,340.00 477.55,347.50 509.12,359.90 540.70,366.20" fill="none" stroke="#222" stroke-width="0.9"/>
<polyline points="414.40,369.70 445.97,380.30 477.55,372.80 509.12,376.30 540.70,374.40" fill="none" stroke="#222" stroke-width="0.9"/>
<polyline points="414.40,372.30 445.97,373.70 477.55,370.40 509.12,376.30 540.70,370.40" fill="none" stroke="#222" stroke-width="0.9"/>
<circle cx="414.40" cy="358.50" r="3.3" fill="#0a0a0a" stroke="#111" stroke-width="0.8"/>
<circle cx="445.97" cy="311.30" r="3.3" fill="#0a0a0a" stroke="#111" stroke-width="0.8"/>
<circle cx="477.55" cy="301.20" r="3.3" fill="#0a0a0a" stroke="#111" stroke-width="0.8"/>
<circle cx="509.12" cy="337.60" r="3.3" fill="#0a0a0a" stroke="#111" stroke-width="0.8"/>
<circle cx="540.70" cy="367.40" r="3.3" fill="#0a0a0a" stroke="#111" stroke-width="0.8"/>
<polygon points="414.40,365.72 410.30,372.92 418.50,372.92" fill="#0a0a0a"/>
<polygon points="445.97,335.82 441.87,343.02 450.07,343.02" fill="#0a0a0a"/>
<polygon points="477.55,343.32 473.45,350.52 481.65,350.52" fill="#0a0a0a"/>
<polygon points="509.12,355.72 505.02,362.92 513.23,362.92" fill="#0a0a0a"/>
<polygon points="540.70,362.02 536.60,369.22 544.80,369.22" fill="#0a0a0a"/>
<rect x="411.00" y="366.30" width="6.8" height="6.8" fill="#0a0a0a"/>
<rect x="442.57" y="376.90" width="6.8" height="6.8" fill="#0a0a0a"/>
<rect x="474.15" y="369.40" width="6.8" height="6.8" fill="#0a0a0a"/>
<rect x="505.73" y="372.90" width="6.8" height="6.8" fill="#0a0a0a"/>
<rect x="537.30" y="371.00" width="6.8" height="6.8" fill="#0a0a0a"/>
<circle cx="414.40" cy="372.30" r="3.3" fill="#fff" stroke="#111" stroke-width="0.8"/>
<circle cx="445.97" cy="373.70" r="3.3" fill="#fff" stroke="#111" stroke-width="0.8"/>
<circle cx="477.55" cy="370.40" r="3.3" fill="#fff" stroke="#111" stroke-width="0.8"/>
<circle cx="509.12" cy="376.30" r="3.3" fill="#fff" stroke="#111" stroke-width="0.8"/>
<circle cx="540.70" cy="370.40" r="3.3" fill="#fff" stroke="#111" stroke-width="0.8"/>
<text x="445.97" y="301.80" font-size="9.8" text-anchor="middle" font-weight="bold" fill="#111">***</text>
<text x="477.55" y="294.40" font-size="9.8" text-anchor="middle" font-weight="bold" fill="#111">***</text>
<text x="445.97" y="329.60" font-size="9.8" text-anchor="middle" font-weight="bold" fill="#111">*</text>
<text x="477.55" y="339.00" font-size="9.8" text-anchor="middle" font-weight="bold" fill="#111">*</text>
</g>
<g id="panelEbar">
<line x1="603.50" y1="250.60" x2="603.50" y2="400.90" stroke="#1a1a1a" stroke-width="1.1"/>
<line x1="602.95" y1="398.30" x2="672.60" y2="398.30" stroke="#1a1a1a" stroke-width="1.15"/>
<line x1="600.80" y1="398.30" x2="603.50" y2="398.30" stroke="#1a1a1a" stroke-width="1.0"/>
<text x="596.30" y="400.80" font-size="7.6" text-anchor="end" font-weight="normal" fill="#111">0</text>
<line x1="600.80" y1="368.76" x2="603.50" y2="368.76" stroke="#1a1a1a" stroke-width="1.0"/>
<text x="596.30" y="371.26" font-size="7.6" text-anchor="end" font-weight="normal" fill="#111">1</text>
<line x1="600.80" y1="339.22" x2="603.50" y2="339.22" stroke="#1a1a1a" stroke-width="1.0"/>
<text x="596.30" y="341.72" font-size="7.6" text-anchor="end" font-weight="normal" fill="#111">2</text>
<line x1="600.80" y1="309.68" x2="603.50" y2="309.68" stroke="#1a1a1a" stroke-width="1.0"/>
<text x="596.30" y="312.18" font-size="7.6" text-anchor="end" font-weight="normal" fill="#111">3</text>
<line x1="600.80" y1="280.14" x2="603.50" y2="280.14" stroke="#1a1a1a" stroke-width="1.0"/>
<text x="596.30" y="282.64" font-size="7.6" text-anchor="end" font-weight="normal" fill="#111">4</text>
<line x1="600.80" y1="250.60" x2="603.50" y2="250.60" stroke="#1a1a1a" stroke-width="1.0"/>
<text x="596.30" y="253.10" font-size="7.6" text-anchor="end" font-weight="normal" fill="#111">5</text>
<line x1="620.70" y1="398.30" x2="620.70" y2="400.90" stroke="#1a1a1a" stroke-width="0.95"/>
<line x1="637.90" y1="398.30" x2="637.90" y2="400.90" stroke="#1a1a1a" stroke-width="0.95"/>
<line x1="655.10" y1="398.30" x2="655.10" y2="400.90" stroke="#1a1a1a" stroke-width="0.95"/>
<line x1="672.30" y1="398.30" x2="672.30" y2="400.90" stroke="#1a1a1a" stroke-width="0.95"/>
<text x="579.00" y="315.00" font-size="9.7" text-anchor="middle" font-weight="normal" fill="#111" transform="rotate(-90 579.00 315.00)">Blood 5-HT conc. (µg/ml)</text>
<line x1="612.40" y1="331.50" x2="612.40" y2="345.72" stroke="#adadad" stroke-width="0.75"/>
<rect x="607.70" y="345.72" width="9.4" height="52.58" fill="#fff" stroke="#444" stroke-width="0.85"/>
<line x1="629.60" y1="324.90" x2="629.60" y2="340.40" stroke="#adadad" stroke-width="0.75"/>
<rect x="624.60" y="340.40" width="10" height="57.90" fill="#050505"/>
<line x1="646.90" y1="302.80" x2="646.90" y2="316.18" stroke="#adadad" stroke-width="0.75"/>
<rect x="641.90" y="316.18" width="10" height="82.12" fill="#050505"/>
<line x1="664.10" y1="257.90" x2="664.10" y2="273.94" stroke="#adadad" stroke-width="0.75"/>
<rect x="659.10" y="273.94" width="10" height="124.36" fill="#050505"/>
<text x="646.90" y="303.20" font-size="9.8" text-anchor="middle" font-weight="bold" fill="#111">*</text>
<text x="664.10" y="258.50" font-size="9.8" text-anchor="middle" font-weight="bold" fill="#111">***</text>
<text x="614.80" y="410.60" font-size="9.3" text-anchor="end" font-weight="normal" fill="#111" transform="rotate(-45 614.80 410.60)">Vehicle</text>
<text x="632.00" y="410.60" font-size="9.3" text-anchor="end" font-weight="normal" fill="#111" transform="rotate(-45 632.00 410.60)">0.01</text>
<text x="649.30" y="410.60" font-size="9.3" text-anchor="end" font-weight="normal" fill="#111" transform="rotate(-45 649.30 410.60)">0.1</text>
<text x="666.50" y="410.60" font-size="9.3" text-anchor="end" font-weight="normal" fill="#111" transform="rotate(-45 666.50 410.60)">1</text>
<line x1="615.40" y1="432.40" x2="671.00" y2="432.40" stroke="#222" stroke-width="0.9"/>
<text x="644.10" y="444.80" font-size="9.7" text-anchor="middle" font-weight="normal" fill="#111">5-HT (mg/kg)</text>
</g>
</svg>
</body>
</html>
